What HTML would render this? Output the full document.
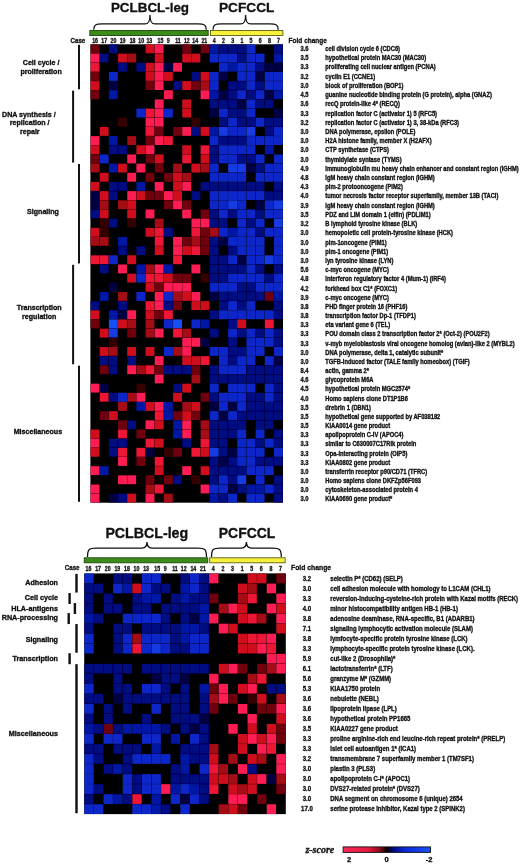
<!DOCTYPE html>
<html lang="en"><head><meta charset="utf-8"><title>Gene expression heatmaps: PCLBCL-leg vs PCFCCL</title>
<style>html,body{margin:0;padding:0;background:#fff}svg{display:block}text{font-family:"Liberation Sans",sans-serif;font-weight:bold;fill:#111;stroke:#111;stroke-width:0.32px;stroke-linejoin:round}.g{font-size:6.3px}.g2{font-size:6.55px}.h{font-size:13.5px}.l{font-size:7.08px}.f{font-size:7.8px}.l,.l2{stroke-width:0.34px}.l2{font-size:7.2px}.zl{font-size:7.5px}.c{font-size:6.4px}.cs{font-size:7.1px}.z{font-family:"Liberation Serif",serif;font-style:italic;font-weight:bold;font-size:10px}</style></head><body>
<svg width="520" height="864" viewBox="0 0 520 864">
<defs><linearGradient id="zg" x1="0" x2="1" y1="0" y2="0"><stop offset="0" stop-color="#ff2858"/><stop offset="0.3" stop-color="#e2183c"/><stop offset="0.42" stop-color="#8c0a1c"/><stop offset="0.5" stop-color="#000"/><stop offset="0.58" stop-color="#000a82"/><stop offset="0.7" stop-color="#0c28d4"/><stop offset="1" stop-color="#1c50fa"/></linearGradient><filter id="bl" x="-2%" y="-2%" width="104%" height="104%"><feGaussianBlur stdDeviation="0.55"/></filter></defs>
<rect width="520" height="864" fill="#fff"/>
<rect x="89.85" y="30.50" width="118.34" height="5.0" fill="#3c8c1c" stroke="#1f470c" stroke-width="0.9"/>
<rect x="210.49" y="30.50" width="72.38" height="5.0" fill="#f6f23c" stroke="#5e5e14" stroke-width="0.9"/>
<path d="M93.75 29.70 C93.75 24.90 95.75 23.90 102.25 23.90 L144.99 23.90 C148.49 23.90 149.99 21.90 149.99 14.90 C149.99 21.90 151.49 23.90 154.99 23.90 L197.74 23.90 C204.24 23.90 206.24 24.90 206.24 29.70" fill="none" stroke="#111" stroke-width="1.3"/>
<path d="M213.04 29.70 C213.04 24.90 215.04 23.90 221.54 23.90 L240.62 23.90 C244.12 23.90 245.62 21.90 245.62 14.90 C245.62 21.90 247.12 23.90 250.62 23.90 L269.71 23.90 C276.21 23.90 278.21 24.90 278.21 29.70" fill="none" stroke="#111" stroke-width="1.3"/>
<text x="150.0" y="11.9" class="h" text-anchor="middle" style="font-size:13.4px">PCLBCL-leg</text>
<text x="246.7" y="11.9" class="h" text-anchor="middle" style="font-size:13.7px">PCFCCL</text>
<text transform="translate(85.30 42.90) scale(0.87 1)" class="cs" text-anchor="end">Case</text>
<text transform="translate(95.09 42.80) scale(0.82 1)" class="c" text-anchor="middle">16</text>
<text transform="translate(104.26 42.80) scale(0.82 1)" class="c" text-anchor="middle">17</text>
<text transform="translate(113.43 42.80) scale(0.82 1)" class="c" text-anchor="middle">20</text>
<text transform="translate(122.60 42.80) scale(0.82 1)" class="c" text-anchor="middle">19</text>
<text transform="translate(132.57 42.80) scale(0.82 1)" class="c" text-anchor="middle">18</text>
<text transform="translate(141.25 42.80) scale(0.82 1)" class="c" text-anchor="middle">10</text>
<text transform="translate(149.32 42.80) scale(0.82 1)" class="c" text-anchor="middle">13</text>
<text transform="translate(160.49 42.80) scale(0.82 1)" class="c" text-anchor="middle">15</text>
<text transform="translate(168.16 42.80) scale(0.82 1)" class="c" text-anchor="middle">9</text>
<text transform="translate(177.93 42.80) scale(0.82 1)" class="c" text-anchor="middle">11</text>
<text transform="translate(186.81 42.80) scale(0.82 1)" class="c" text-anchor="middle">12</text>
<text transform="translate(195.18 42.80) scale(0.82 1)" class="c" text-anchor="middle">14</text>
<text transform="translate(204.35 42.80) scale(0.82 1)" class="c" text-anchor="middle">21</text>
<text transform="translate(214.32 42.80) scale(0.82 1)" class="c" text-anchor="middle">4</text>
<text transform="translate(223.49 42.80) scale(0.82 1)" class="c" text-anchor="middle">2</text>
<text transform="translate(232.67 42.80) scale(0.82 1)" class="c" text-anchor="middle">3</text>
<text transform="translate(241.84 42.80) scale(0.82 1)" class="c" text-anchor="middle">1</text>
<text transform="translate(251.01 42.80) scale(0.82 1)" class="c" text-anchor="middle">5</text>
<text transform="translate(260.18 42.80) scale(0.82 1)" class="c" text-anchor="middle">6</text>
<text transform="translate(269.35 42.80) scale(0.82 1)" class="c" text-anchor="middle">8</text>
<text transform="translate(278.53 42.80) scale(0.82 1)" class="c" text-anchor="middle">7</text>
<text transform="translate(288.60 43.00) scale(0.835 1)" class="f" text-anchor="start">Fold change</text>
<g filter="url(#bl)">
<rect x="90.40" y="44.30" width="192.61" height="458.40" fill="#000"/>
<rect x="90.55" y="44.45" width="8.87" height="8.87" fill="#70030a"/>
<rect x="108.89" y="44.45" width="8.87" height="8.87" fill="#020780"/>
<rect x="145.58" y="44.45" width="8.87" height="8.87" fill="#d00e1e"/>
<rect x="154.75" y="44.45" width="8.87" height="8.87" fill="#ff1c52"/>
<rect x="182.27" y="44.45" width="8.87" height="8.87" fill="#70030a"/>
<rect x="200.61" y="44.45" width="8.87" height="8.87" fill="#70030a"/>
<rect x="209.79" y="44.45" width="8.87" height="8.87" fill="#0616a5"/>
<rect x="218.96" y="44.45" width="8.87" height="8.87" fill="#020780"/>
<rect x="228.13" y="44.45" width="8.87" height="8.87" fill="#020780"/>
<rect x="237.30" y="44.45" width="8.87" height="8.87" fill="#020780"/>
<rect x="246.47" y="44.45" width="8.87" height="8.87" fill="#0c28ca"/>
<rect x="273.99" y="44.45" width="8.87" height="8.87" fill="#020780"/>
<rect x="90.55" y="53.62" width="8.87" height="8.87" fill="#ff1c52"/>
<rect x="99.72" y="53.62" width="8.87" height="8.87" fill="#020780"/>
<rect x="118.07" y="53.62" width="8.87" height="8.87" fill="#d00e1e"/>
<rect x="127.24" y="53.62" width="8.87" height="8.87" fill="#a50812"/>
<rect x="154.75" y="53.62" width="8.87" height="8.87" fill="#d00e1e"/>
<rect x="182.27" y="53.62" width="8.87" height="8.87" fill="#d00e1e"/>
<rect x="191.44" y="53.62" width="8.87" height="8.87" fill="#d00e1e"/>
<rect x="209.79" y="53.62" width="8.87" height="8.87" fill="#0c28ca"/>
<rect x="218.96" y="53.62" width="8.87" height="8.87" fill="#0c28ca"/>
<rect x="228.13" y="53.62" width="8.87" height="8.87" fill="#0c28ca"/>
<rect x="237.30" y="53.62" width="8.87" height="8.87" fill="#020780"/>
<rect x="246.47" y="53.62" width="8.87" height="8.87" fill="#0c28ca"/>
<rect x="255.65" y="53.62" width="8.87" height="8.87" fill="#0c28ca"/>
<rect x="273.99" y="53.62" width="8.87" height="8.87" fill="#0616a5"/>
<rect x="90.55" y="62.79" width="8.87" height="8.87" fill="#ee1434"/>
<rect x="118.07" y="62.79" width="8.87" height="8.87" fill="#020780"/>
<rect x="136.41" y="62.79" width="8.87" height="8.87" fill="#020780"/>
<rect x="145.58" y="62.79" width="8.87" height="8.87" fill="#d00e1e"/>
<rect x="154.75" y="62.79" width="8.87" height="8.87" fill="#ff1c52"/>
<rect x="163.93" y="62.79" width="8.87" height="8.87" fill="#000042"/>
<rect x="173.10" y="62.79" width="8.87" height="8.87" fill="#ff1c52"/>
<rect x="218.96" y="62.79" width="8.87" height="8.87" fill="#0c28ca"/>
<rect x="228.13" y="62.79" width="8.87" height="8.87" fill="#0616a5"/>
<rect x="237.30" y="62.79" width="8.87" height="8.87" fill="#0c28ca"/>
<rect x="246.47" y="62.79" width="8.87" height="8.87" fill="#0c28ca"/>
<rect x="255.65" y="62.79" width="8.87" height="8.87" fill="#020780"/>
<rect x="264.82" y="62.79" width="8.87" height="8.87" fill="#000042"/>
<rect x="273.99" y="62.79" width="8.87" height="8.87" fill="#000042"/>
<rect x="90.55" y="71.95" width="8.87" height="8.87" fill="#70030a"/>
<rect x="108.89" y="71.95" width="8.87" height="8.87" fill="#0c28ca"/>
<rect x="145.58" y="71.95" width="8.87" height="8.87" fill="#d00e1e"/>
<rect x="154.75" y="71.95" width="8.87" height="8.87" fill="#ff1c52"/>
<rect x="163.93" y="71.95" width="8.87" height="8.87" fill="#d00e1e"/>
<rect x="191.44" y="71.95" width="8.87" height="8.87" fill="#020780"/>
<rect x="200.61" y="71.95" width="8.87" height="8.87" fill="#d00e1e"/>
<rect x="209.79" y="71.95" width="8.87" height="8.87" fill="#0c28ca"/>
<rect x="218.96" y="71.95" width="8.87" height="8.87" fill="#000042"/>
<rect x="237.30" y="71.95" width="8.87" height="8.87" fill="#0c28ca"/>
<rect x="246.47" y="71.95" width="8.87" height="8.87" fill="#0c28ca"/>
<rect x="255.65" y="71.95" width="8.87" height="8.87" fill="#000042"/>
<rect x="264.82" y="71.95" width="8.87" height="8.87" fill="#0c28ca"/>
<rect x="273.99" y="71.95" width="8.87" height="8.87" fill="#0c28ca"/>
<rect x="90.55" y="81.12" width="8.87" height="8.87" fill="#d00e1e"/>
<rect x="108.89" y="81.12" width="8.87" height="8.87" fill="#000042"/>
<rect x="145.58" y="81.12" width="8.87" height="8.87" fill="#70030a"/>
<rect x="154.75" y="81.12" width="8.87" height="8.87" fill="#ff1c52"/>
<rect x="173.10" y="81.12" width="8.87" height="8.87" fill="#020780"/>
<rect x="182.27" y="81.12" width="8.87" height="8.87" fill="#d00e1e"/>
<rect x="191.44" y="81.12" width="8.87" height="8.87" fill="#70030a"/>
<rect x="200.61" y="81.12" width="8.87" height="8.87" fill="#a50812"/>
<rect x="209.79" y="81.12" width="8.87" height="8.87" fill="#0c28ca"/>
<rect x="228.13" y="81.12" width="8.87" height="8.87" fill="#020780"/>
<rect x="237.30" y="81.12" width="8.87" height="8.87" fill="#020780"/>
<rect x="246.47" y="81.12" width="8.87" height="8.87" fill="#0c28ca"/>
<rect x="255.65" y="81.12" width="8.87" height="8.87" fill="#020780"/>
<rect x="264.82" y="81.12" width="8.87" height="8.87" fill="#0c28ca"/>
<rect x="273.99" y="81.12" width="8.87" height="8.87" fill="#0c28ca"/>
<rect x="90.55" y="90.29" width="8.87" height="8.87" fill="#70030a"/>
<rect x="108.89" y="90.29" width="8.87" height="8.87" fill="#0616a5"/>
<rect x="163.93" y="90.29" width="8.87" height="8.87" fill="#ff1c52"/>
<rect x="200.61" y="90.29" width="8.87" height="8.87" fill="#ff1c52"/>
<rect x="209.79" y="90.29" width="8.87" height="8.87" fill="#0616a5"/>
<rect x="218.96" y="90.29" width="8.87" height="8.87" fill="#000042"/>
<rect x="228.13" y="90.29" width="8.87" height="8.87" fill="#020780"/>
<rect x="237.30" y="90.29" width="8.87" height="8.87" fill="#0c28ca"/>
<rect x="246.47" y="90.29" width="8.87" height="8.87" fill="#020780"/>
<rect x="255.65" y="90.29" width="8.87" height="8.87" fill="#0c28ca"/>
<rect x="264.82" y="90.29" width="8.87" height="8.87" fill="#000042"/>
<rect x="273.99" y="90.29" width="8.87" height="8.87" fill="#0616a5"/>
<rect x="154.75" y="99.46" width="8.87" height="8.87" fill="#ff1c52"/>
<rect x="182.27" y="99.46" width="8.87" height="8.87" fill="#d00e1e"/>
<rect x="209.79" y="99.46" width="8.87" height="8.87" fill="#020780"/>
<rect x="218.96" y="99.46" width="8.87" height="8.87" fill="#020780"/>
<rect x="228.13" y="99.46" width="8.87" height="8.87" fill="#020780"/>
<rect x="237.30" y="99.46" width="8.87" height="8.87" fill="#000042"/>
<rect x="246.47" y="99.46" width="8.87" height="8.87" fill="#0c28ca"/>
<rect x="255.65" y="99.46" width="8.87" height="8.87" fill="#020780"/>
<rect x="264.82" y="99.46" width="8.87" height="8.87" fill="#020780"/>
<rect x="136.41" y="108.63" width="8.87" height="8.87" fill="#0c28ca"/>
<rect x="145.58" y="108.63" width="8.87" height="8.87" fill="#ee1434"/>
<rect x="154.75" y="108.63" width="8.87" height="8.87" fill="#ff1c52"/>
<rect x="163.93" y="108.63" width="8.87" height="8.87" fill="#0c28ca"/>
<rect x="182.27" y="108.63" width="8.87" height="8.87" fill="#d00e1e"/>
<rect x="209.79" y="108.63" width="8.87" height="8.87" fill="#000042"/>
<rect x="218.96" y="108.63" width="8.87" height="8.87" fill="#0c28ca"/>
<rect x="228.13" y="108.63" width="8.87" height="8.87" fill="#020780"/>
<rect x="237.30" y="108.63" width="8.87" height="8.87" fill="#020780"/>
<rect x="246.47" y="108.63" width="8.87" height="8.87" fill="#0c28ca"/>
<rect x="273.99" y="108.63" width="8.87" height="8.87" fill="#000042"/>
<rect x="118.07" y="117.79" width="8.87" height="8.87" fill="#340004"/>
<rect x="145.58" y="117.79" width="8.87" height="8.87" fill="#ff1c52"/>
<rect x="154.75" y="117.79" width="8.87" height="8.87" fill="#ff1c52"/>
<rect x="191.44" y="117.79" width="8.87" height="8.87" fill="#340004"/>
<rect x="218.96" y="117.79" width="8.87" height="8.87" fill="#020780"/>
<rect x="228.13" y="117.79" width="8.87" height="8.87" fill="#0c28ca"/>
<rect x="237.30" y="117.79" width="8.87" height="8.87" fill="#020780"/>
<rect x="246.47" y="117.79" width="8.87" height="8.87" fill="#020780"/>
<rect x="255.65" y="117.79" width="8.87" height="8.87" fill="#0c28ca"/>
<rect x="264.82" y="117.79" width="8.87" height="8.87" fill="#020780"/>
<rect x="273.99" y="117.79" width="8.87" height="8.87" fill="#020780"/>
<rect x="99.72" y="126.96" width="8.87" height="8.87" fill="#d00e1e"/>
<rect x="145.58" y="126.96" width="8.87" height="8.87" fill="#ee1434"/>
<rect x="154.75" y="126.96" width="8.87" height="8.87" fill="#70030a"/>
<rect x="173.10" y="126.96" width="8.87" height="8.87" fill="#70030a"/>
<rect x="182.27" y="126.96" width="8.87" height="8.87" fill="#ff1c52"/>
<rect x="191.44" y="126.96" width="8.87" height="8.87" fill="#020780"/>
<rect x="200.61" y="126.96" width="8.87" height="8.87" fill="#d00e1e"/>
<rect x="209.79" y="126.96" width="8.87" height="8.87" fill="#0616a5"/>
<rect x="218.96" y="126.96" width="8.87" height="8.87" fill="#123ae2"/>
<rect x="228.13" y="126.96" width="8.87" height="8.87" fill="#0c28ca"/>
<rect x="237.30" y="126.96" width="8.87" height="8.87" fill="#0c28ca"/>
<rect x="246.47" y="126.96" width="8.87" height="8.87" fill="#123ae2"/>
<rect x="264.82" y="126.96" width="8.87" height="8.87" fill="#020780"/>
<rect x="273.99" y="126.96" width="8.87" height="8.87" fill="#0c28ca"/>
<rect x="90.55" y="136.13" width="8.87" height="8.87" fill="#ff1c52"/>
<rect x="108.89" y="136.13" width="8.87" height="8.87" fill="#0616a5"/>
<rect x="127.24" y="136.13" width="8.87" height="8.87" fill="#a50812"/>
<rect x="145.58" y="136.13" width="8.87" height="8.87" fill="#70030a"/>
<rect x="154.75" y="136.13" width="8.87" height="8.87" fill="#ff1c52"/>
<rect x="163.93" y="136.13" width="8.87" height="8.87" fill="#ee1434"/>
<rect x="209.79" y="136.13" width="8.87" height="8.87" fill="#0c28ca"/>
<rect x="218.96" y="136.13" width="8.87" height="8.87" fill="#020780"/>
<rect x="228.13" y="136.13" width="8.87" height="8.87" fill="#020780"/>
<rect x="237.30" y="136.13" width="8.87" height="8.87" fill="#020780"/>
<rect x="246.47" y="136.13" width="8.87" height="8.87" fill="#0c28ca"/>
<rect x="255.65" y="136.13" width="8.87" height="8.87" fill="#0c28ca"/>
<rect x="264.82" y="136.13" width="8.87" height="8.87" fill="#0c28ca"/>
<rect x="273.99" y="136.13" width="8.87" height="8.87" fill="#0c28ca"/>
<rect x="90.55" y="145.30" width="8.87" height="8.87" fill="#d00e1e"/>
<rect x="108.89" y="145.30" width="8.87" height="8.87" fill="#020780"/>
<rect x="118.07" y="145.30" width="8.87" height="8.87" fill="#020780"/>
<rect x="136.41" y="145.30" width="8.87" height="8.87" fill="#d00e1e"/>
<rect x="145.58" y="145.30" width="8.87" height="8.87" fill="#ff1c52"/>
<rect x="182.27" y="145.30" width="8.87" height="8.87" fill="#d00e1e"/>
<rect x="200.61" y="145.30" width="8.87" height="8.87" fill="#ee1434"/>
<rect x="209.79" y="145.30" width="8.87" height="8.87" fill="#020780"/>
<rect x="218.96" y="145.30" width="8.87" height="8.87" fill="#0c28ca"/>
<rect x="228.13" y="145.30" width="8.87" height="8.87" fill="#0c28ca"/>
<rect x="237.30" y="145.30" width="8.87" height="8.87" fill="#0c28ca"/>
<rect x="246.47" y="145.30" width="8.87" height="8.87" fill="#0c28ca"/>
<rect x="264.82" y="145.30" width="8.87" height="8.87" fill="#0616a5"/>
<rect x="90.55" y="154.47" width="8.87" height="8.87" fill="#70030a"/>
<rect x="99.72" y="154.47" width="8.87" height="8.87" fill="#0c28ca"/>
<rect x="127.24" y="154.47" width="8.87" height="8.87" fill="#ff1c52"/>
<rect x="145.58" y="154.47" width="8.87" height="8.87" fill="#70030a"/>
<rect x="154.75" y="154.47" width="8.87" height="8.87" fill="#d00e1e"/>
<rect x="182.27" y="154.47" width="8.87" height="8.87" fill="#ee1434"/>
<rect x="200.61" y="154.47" width="8.87" height="8.87" fill="#d00e1e"/>
<rect x="209.79" y="154.47" width="8.87" height="8.87" fill="#020780"/>
<rect x="218.96" y="154.47" width="8.87" height="8.87" fill="#0c28ca"/>
<rect x="228.13" y="154.47" width="8.87" height="8.87" fill="#0c28ca"/>
<rect x="237.30" y="154.47" width="8.87" height="8.87" fill="#020780"/>
<rect x="246.47" y="154.47" width="8.87" height="8.87" fill="#020780"/>
<rect x="255.65" y="154.47" width="8.87" height="8.87" fill="#0c28ca"/>
<rect x="273.99" y="154.47" width="8.87" height="8.87" fill="#0c28ca"/>
<rect x="90.55" y="163.63" width="8.87" height="8.87" fill="#a50812"/>
<rect x="108.89" y="163.63" width="8.87" height="8.87" fill="#0616a5"/>
<rect x="118.07" y="163.63" width="8.87" height="8.87" fill="#d00e1e"/>
<rect x="136.41" y="163.63" width="8.87" height="8.87" fill="#ff1c52"/>
<rect x="154.75" y="163.63" width="8.87" height="8.87" fill="#70030a"/>
<rect x="173.10" y="163.63" width="8.87" height="8.87" fill="#a50812"/>
<rect x="191.44" y="163.63" width="8.87" height="8.87" fill="#d00e1e"/>
<rect x="200.61" y="163.63" width="8.87" height="8.87" fill="#a50812"/>
<rect x="209.79" y="163.63" width="8.87" height="8.87" fill="#0c28ca"/>
<rect x="228.13" y="163.63" width="8.87" height="8.87" fill="#123ae2"/>
<rect x="237.30" y="163.63" width="8.87" height="8.87" fill="#123ae2"/>
<rect x="246.47" y="163.63" width="8.87" height="8.87" fill="#000042"/>
<rect x="255.65" y="163.63" width="8.87" height="8.87" fill="#020780"/>
<rect x="264.82" y="163.63" width="8.87" height="8.87" fill="#0c28ca"/>
<rect x="273.99" y="163.63" width="8.87" height="8.87" fill="#0c28ca"/>
<rect x="99.72" y="172.80" width="8.87" height="8.87" fill="#d00e1e"/>
<rect x="127.24" y="172.80" width="8.87" height="8.87" fill="#ff1c52"/>
<rect x="145.58" y="172.80" width="8.87" height="8.87" fill="#70030a"/>
<rect x="163.93" y="172.80" width="8.87" height="8.87" fill="#70030a"/>
<rect x="173.10" y="172.80" width="8.87" height="8.87" fill="#d00e1e"/>
<rect x="182.27" y="172.80" width="8.87" height="8.87" fill="#a50812"/>
<rect x="209.79" y="172.80" width="8.87" height="8.87" fill="#0c28ca"/>
<rect x="218.96" y="172.80" width="8.87" height="8.87" fill="#0c28ca"/>
<rect x="228.13" y="172.80" width="8.87" height="8.87" fill="#0c28ca"/>
<rect x="237.30" y="172.80" width="8.87" height="8.87" fill="#0c28ca"/>
<rect x="255.65" y="172.80" width="8.87" height="8.87" fill="#0c28ca"/>
<rect x="264.82" y="172.80" width="8.87" height="8.87" fill="#0c28ca"/>
<rect x="273.99" y="172.80" width="8.87" height="8.87" fill="#0c28ca"/>
<rect x="90.55" y="181.97" width="8.87" height="8.87" fill="#d00e1e"/>
<rect x="108.89" y="181.97" width="8.87" height="8.87" fill="#020780"/>
<rect x="118.07" y="181.97" width="8.87" height="8.87" fill="#020780"/>
<rect x="136.41" y="181.97" width="8.87" height="8.87" fill="#0616a5"/>
<rect x="154.75" y="181.97" width="8.87" height="8.87" fill="#ff1c52"/>
<rect x="173.10" y="181.97" width="8.87" height="8.87" fill="#d00e1e"/>
<rect x="182.27" y="181.97" width="8.87" height="8.87" fill="#ff1c52"/>
<rect x="200.61" y="181.97" width="8.87" height="8.87" fill="#020780"/>
<rect x="209.79" y="181.97" width="8.87" height="8.87" fill="#020780"/>
<rect x="218.96" y="181.97" width="8.87" height="8.87" fill="#020780"/>
<rect x="228.13" y="181.97" width="8.87" height="8.87" fill="#020780"/>
<rect x="237.30" y="181.97" width="8.87" height="8.87" fill="#020780"/>
<rect x="246.47" y="181.97" width="8.87" height="8.87" fill="#020780"/>
<rect x="255.65" y="181.97" width="8.87" height="8.87" fill="#020780"/>
<rect x="273.99" y="181.97" width="8.87" height="8.87" fill="#020780"/>
<rect x="90.55" y="191.14" width="8.87" height="8.87" fill="#000042"/>
<rect x="99.72" y="191.14" width="8.87" height="8.87" fill="#d00e1e"/>
<rect x="108.89" y="191.14" width="8.87" height="8.87" fill="#020780"/>
<rect x="127.24" y="191.14" width="8.87" height="8.87" fill="#ff1c52"/>
<rect x="136.41" y="191.14" width="8.87" height="8.87" fill="#d00e1e"/>
<rect x="145.58" y="191.14" width="8.87" height="8.87" fill="#70030a"/>
<rect x="154.75" y="191.14" width="8.87" height="8.87" fill="#70030a"/>
<rect x="163.93" y="191.14" width="8.87" height="8.87" fill="#ff1c52"/>
<rect x="173.10" y="191.14" width="8.87" height="8.87" fill="#d00e1e"/>
<rect x="191.44" y="191.14" width="8.87" height="8.87" fill="#020780"/>
<rect x="209.79" y="191.14" width="8.87" height="8.87" fill="#0c28ca"/>
<rect x="218.96" y="191.14" width="8.87" height="8.87" fill="#0c28ca"/>
<rect x="228.13" y="191.14" width="8.87" height="8.87" fill="#0c28ca"/>
<rect x="237.30" y="191.14" width="8.87" height="8.87" fill="#0c28ca"/>
<rect x="246.47" y="191.14" width="8.87" height="8.87" fill="#0c28ca"/>
<rect x="255.65" y="191.14" width="8.87" height="8.87" fill="#0c28ca"/>
<rect x="264.82" y="191.14" width="8.87" height="8.87" fill="#020780"/>
<rect x="273.99" y="191.14" width="8.87" height="8.87" fill="#020780"/>
<rect x="90.55" y="200.31" width="8.87" height="8.87" fill="#000042"/>
<rect x="99.72" y="200.31" width="8.87" height="8.87" fill="#a50812"/>
<rect x="118.07" y="200.31" width="8.87" height="8.87" fill="#a50812"/>
<rect x="127.24" y="200.31" width="8.87" height="8.87" fill="#d00e1e"/>
<rect x="163.93" y="200.31" width="8.87" height="8.87" fill="#70030a"/>
<rect x="173.10" y="200.31" width="8.87" height="8.87" fill="#ff1c52"/>
<rect x="182.27" y="200.31" width="8.87" height="8.87" fill="#70030a"/>
<rect x="209.79" y="200.31" width="8.87" height="8.87" fill="#0c28ca"/>
<rect x="218.96" y="200.31" width="8.87" height="8.87" fill="#0c28ca"/>
<rect x="228.13" y="200.31" width="8.87" height="8.87" fill="#123ae2"/>
<rect x="237.30" y="200.31" width="8.87" height="8.87" fill="#0c28ca"/>
<rect x="255.65" y="200.31" width="8.87" height="8.87" fill="#000042"/>
<rect x="264.82" y="200.31" width="8.87" height="8.87" fill="#0c28ca"/>
<rect x="273.99" y="200.31" width="8.87" height="8.87" fill="#123ae2"/>
<rect x="90.55" y="209.47" width="8.87" height="8.87" fill="#020780"/>
<rect x="99.72" y="209.47" width="8.87" height="8.87" fill="#d00e1e"/>
<rect x="127.24" y="209.47" width="8.87" height="8.87" fill="#d00e1e"/>
<rect x="145.58" y="209.47" width="8.87" height="8.87" fill="#ff1c52"/>
<rect x="182.27" y="209.47" width="8.87" height="8.87" fill="#ff1c52"/>
<rect x="200.61" y="209.47" width="8.87" height="8.87" fill="#70030a"/>
<rect x="209.79" y="209.47" width="8.87" height="8.87" fill="#020780"/>
<rect x="218.96" y="209.47" width="8.87" height="8.87" fill="#0c28ca"/>
<rect x="228.13" y="209.47" width="8.87" height="8.87" fill="#020780"/>
<rect x="237.30" y="209.47" width="8.87" height="8.87" fill="#0c28ca"/>
<rect x="246.47" y="209.47" width="8.87" height="8.87" fill="#0c28ca"/>
<rect x="255.65" y="209.47" width="8.87" height="8.87" fill="#020780"/>
<rect x="264.82" y="209.47" width="8.87" height="8.87" fill="#0c28ca"/>
<rect x="273.99" y="209.47" width="8.87" height="8.87" fill="#0c28ca"/>
<rect x="99.72" y="218.64" width="8.87" height="8.87" fill="#340004"/>
<rect x="108.89" y="218.64" width="8.87" height="8.87" fill="#020780"/>
<rect x="127.24" y="218.64" width="8.87" height="8.87" fill="#340004"/>
<rect x="154.75" y="218.64" width="8.87" height="8.87" fill="#a50812"/>
<rect x="191.44" y="218.64" width="8.87" height="8.87" fill="#ff1c52"/>
<rect x="200.61" y="218.64" width="8.87" height="8.87" fill="#ff1c52"/>
<rect x="209.79" y="218.64" width="8.87" height="8.87" fill="#020780"/>
<rect x="218.96" y="218.64" width="8.87" height="8.87" fill="#020780"/>
<rect x="237.30" y="218.64" width="8.87" height="8.87" fill="#0c28ca"/>
<rect x="246.47" y="218.64" width="8.87" height="8.87" fill="#020780"/>
<rect x="255.65" y="218.64" width="8.87" height="8.87" fill="#0c28ca"/>
<rect x="273.99" y="218.64" width="8.87" height="8.87" fill="#123ae2"/>
<rect x="90.55" y="227.81" width="8.87" height="8.87" fill="#d00e1e"/>
<rect x="99.72" y="227.81" width="8.87" height="8.87" fill="#340004"/>
<rect x="145.58" y="227.81" width="8.87" height="8.87" fill="#d00e1e"/>
<rect x="154.75" y="227.81" width="8.87" height="8.87" fill="#ee1434"/>
<rect x="163.93" y="227.81" width="8.87" height="8.87" fill="#020780"/>
<rect x="191.44" y="227.81" width="8.87" height="8.87" fill="#ee1434"/>
<rect x="200.61" y="227.81" width="8.87" height="8.87" fill="#70030a"/>
<rect x="209.79" y="227.81" width="8.87" height="8.87" fill="#a50812"/>
<rect x="218.96" y="227.81" width="8.87" height="8.87" fill="#0c28ca"/>
<rect x="228.13" y="227.81" width="8.87" height="8.87" fill="#0616a5"/>
<rect x="237.30" y="227.81" width="8.87" height="8.87" fill="#0c28ca"/>
<rect x="246.47" y="227.81" width="8.87" height="8.87" fill="#0c28ca"/>
<rect x="255.65" y="227.81" width="8.87" height="8.87" fill="#020780"/>
<rect x="264.82" y="227.81" width="8.87" height="8.87" fill="#0c28ca"/>
<rect x="273.99" y="227.81" width="8.87" height="8.87" fill="#0c28ca"/>
<rect x="90.55" y="236.98" width="8.87" height="8.87" fill="#a50812"/>
<rect x="99.72" y="236.98" width="8.87" height="8.87" fill="#a50812"/>
<rect x="118.07" y="236.98" width="8.87" height="8.87" fill="#0616a5"/>
<rect x="154.75" y="236.98" width="8.87" height="8.87" fill="#ee1434"/>
<rect x="173.10" y="236.98" width="8.87" height="8.87" fill="#ff1c52"/>
<rect x="182.27" y="236.98" width="8.87" height="8.87" fill="#70030a"/>
<rect x="191.44" y="236.98" width="8.87" height="8.87" fill="#a50812"/>
<rect x="200.61" y="236.98" width="8.87" height="8.87" fill="#70030a"/>
<rect x="209.79" y="236.98" width="8.87" height="8.87" fill="#020780"/>
<rect x="218.96" y="236.98" width="8.87" height="8.87" fill="#000042"/>
<rect x="228.13" y="236.98" width="8.87" height="8.87" fill="#0c28ca"/>
<rect x="237.30" y="236.98" width="8.87" height="8.87" fill="#0c28ca"/>
<rect x="246.47" y="236.98" width="8.87" height="8.87" fill="#0c28ca"/>
<rect x="255.65" y="236.98" width="8.87" height="8.87" fill="#0c28ca"/>
<rect x="273.99" y="236.98" width="8.87" height="8.87" fill="#0c28ca"/>
<rect x="118.07" y="246.15" width="8.87" height="8.87" fill="#020780"/>
<rect x="136.41" y="246.15" width="8.87" height="8.87" fill="#020780"/>
<rect x="154.75" y="246.15" width="8.87" height="8.87" fill="#d00e1e"/>
<rect x="173.10" y="246.15" width="8.87" height="8.87" fill="#ff1c52"/>
<rect x="182.27" y="246.15" width="8.87" height="8.87" fill="#d00e1e"/>
<rect x="191.44" y="246.15" width="8.87" height="8.87" fill="#ee1434"/>
<rect x="200.61" y="246.15" width="8.87" height="8.87" fill="#70030a"/>
<rect x="209.79" y="246.15" width="8.87" height="8.87" fill="#020780"/>
<rect x="228.13" y="246.15" width="8.87" height="8.87" fill="#020780"/>
<rect x="237.30" y="246.15" width="8.87" height="8.87" fill="#0c28ca"/>
<rect x="246.47" y="246.15" width="8.87" height="8.87" fill="#0c28ca"/>
<rect x="255.65" y="246.15" width="8.87" height="8.87" fill="#0c28ca"/>
<rect x="273.99" y="246.15" width="8.87" height="8.87" fill="#0c28ca"/>
<rect x="90.55" y="255.31" width="8.87" height="8.87" fill="#ee1434"/>
<rect x="99.72" y="255.31" width="8.87" height="8.87" fill="#ee1434"/>
<rect x="108.89" y="255.31" width="8.87" height="8.87" fill="#0c28ca"/>
<rect x="127.24" y="255.31" width="8.87" height="8.87" fill="#d00e1e"/>
<rect x="173.10" y="255.31" width="8.87" height="8.87" fill="#ee1434"/>
<rect x="209.79" y="255.31" width="8.87" height="8.87" fill="#020780"/>
<rect x="218.96" y="255.31" width="8.87" height="8.87" fill="#020780"/>
<rect x="228.13" y="255.31" width="8.87" height="8.87" fill="#0c28ca"/>
<rect x="237.30" y="255.31" width="8.87" height="8.87" fill="#000042"/>
<rect x="246.47" y="255.31" width="8.87" height="8.87" fill="#0c28ca"/>
<rect x="255.65" y="255.31" width="8.87" height="8.87" fill="#0c28ca"/>
<rect x="264.82" y="255.31" width="8.87" height="8.87" fill="#123ae2"/>
<rect x="273.99" y="255.31" width="8.87" height="8.87" fill="#0c28ca"/>
<rect x="99.72" y="264.48" width="8.87" height="8.87" fill="#020780"/>
<rect x="118.07" y="264.48" width="8.87" height="8.87" fill="#ff1c52"/>
<rect x="136.41" y="264.48" width="8.87" height="8.87" fill="#0616a5"/>
<rect x="145.58" y="264.48" width="8.87" height="8.87" fill="#a50812"/>
<rect x="154.75" y="264.48" width="8.87" height="8.87" fill="#ff1c52"/>
<rect x="163.93" y="264.48" width="8.87" height="8.87" fill="#0616a5"/>
<rect x="191.44" y="264.48" width="8.87" height="8.87" fill="#ff1c52"/>
<rect x="209.79" y="264.48" width="8.87" height="8.87" fill="#020780"/>
<rect x="218.96" y="264.48" width="8.87" height="8.87" fill="#020780"/>
<rect x="228.13" y="264.48" width="8.87" height="8.87" fill="#020780"/>
<rect x="237.30" y="264.48" width="8.87" height="8.87" fill="#020780"/>
<rect x="246.47" y="264.48" width="8.87" height="8.87" fill="#0c28ca"/>
<rect x="255.65" y="264.48" width="8.87" height="8.87" fill="#020780"/>
<rect x="273.99" y="264.48" width="8.87" height="8.87" fill="#020780"/>
<rect x="127.24" y="273.65" width="8.87" height="8.87" fill="#d00e1e"/>
<rect x="136.41" y="273.65" width="8.87" height="8.87" fill="#0c28ca"/>
<rect x="145.58" y="273.65" width="8.87" height="8.87" fill="#ee1434"/>
<rect x="154.75" y="273.65" width="8.87" height="8.87" fill="#ee1434"/>
<rect x="163.93" y="273.65" width="8.87" height="8.87" fill="#d00e1e"/>
<rect x="173.10" y="273.65" width="8.87" height="8.87" fill="#70030a"/>
<rect x="182.27" y="273.65" width="8.87" height="8.87" fill="#70030a"/>
<rect x="200.61" y="273.65" width="8.87" height="8.87" fill="#340004"/>
<rect x="209.79" y="273.65" width="8.87" height="8.87" fill="#020780"/>
<rect x="218.96" y="273.65" width="8.87" height="8.87" fill="#020780"/>
<rect x="228.13" y="273.65" width="8.87" height="8.87" fill="#0c28ca"/>
<rect x="237.30" y="273.65" width="8.87" height="8.87" fill="#0c28ca"/>
<rect x="246.47" y="273.65" width="8.87" height="8.87" fill="#0c28ca"/>
<rect x="255.65" y="273.65" width="8.87" height="8.87" fill="#0c28ca"/>
<rect x="264.82" y="273.65" width="8.87" height="8.87" fill="#020780"/>
<rect x="273.99" y="273.65" width="8.87" height="8.87" fill="#0c28ca"/>
<rect x="108.89" y="282.82" width="8.87" height="8.87" fill="#000042"/>
<rect x="145.58" y="282.82" width="8.87" height="8.87" fill="#d00e1e"/>
<rect x="154.75" y="282.82" width="8.87" height="8.87" fill="#70030a"/>
<rect x="163.93" y="282.82" width="8.87" height="8.87" fill="#ff1c52"/>
<rect x="173.10" y="282.82" width="8.87" height="8.87" fill="#ff1c52"/>
<rect x="182.27" y="282.82" width="8.87" height="8.87" fill="#ff1c52"/>
<rect x="209.79" y="282.82" width="8.87" height="8.87" fill="#0c28ca"/>
<rect x="218.96" y="282.82" width="8.87" height="8.87" fill="#0c28ca"/>
<rect x="228.13" y="282.82" width="8.87" height="8.87" fill="#0c28ca"/>
<rect x="237.30" y="282.82" width="8.87" height="8.87" fill="#020780"/>
<rect x="246.47" y="282.82" width="8.87" height="8.87" fill="#020780"/>
<rect x="255.65" y="282.82" width="8.87" height="8.87" fill="#0c28ca"/>
<rect x="264.82" y="282.82" width="8.87" height="8.87" fill="#0c28ca"/>
<rect x="273.99" y="282.82" width="8.87" height="8.87" fill="#0c28ca"/>
<rect x="99.72" y="291.99" width="8.87" height="8.87" fill="#0616a5"/>
<rect x="118.07" y="291.99" width="8.87" height="8.87" fill="#a50812"/>
<rect x="136.41" y="291.99" width="8.87" height="8.87" fill="#0c28ca"/>
<rect x="154.75" y="291.99" width="8.87" height="8.87" fill="#ff1c52"/>
<rect x="163.93" y="291.99" width="8.87" height="8.87" fill="#0c28ca"/>
<rect x="173.10" y="291.99" width="8.87" height="8.87" fill="#a50812"/>
<rect x="182.27" y="291.99" width="8.87" height="8.87" fill="#d00e1e"/>
<rect x="191.44" y="291.99" width="8.87" height="8.87" fill="#ff1c52"/>
<rect x="209.79" y="291.99" width="8.87" height="8.87" fill="#000042"/>
<rect x="218.96" y="291.99" width="8.87" height="8.87" fill="#020780"/>
<rect x="228.13" y="291.99" width="8.87" height="8.87" fill="#020780"/>
<rect x="237.30" y="291.99" width="8.87" height="8.87" fill="#020780"/>
<rect x="246.47" y="291.99" width="8.87" height="8.87" fill="#020780"/>
<rect x="255.65" y="291.99" width="8.87" height="8.87" fill="#020780"/>
<rect x="264.82" y="291.99" width="8.87" height="8.87" fill="#70030a"/>
<rect x="273.99" y="291.99" width="8.87" height="8.87" fill="#0616a5"/>
<rect x="90.55" y="301.15" width="8.87" height="8.87" fill="#020780"/>
<rect x="118.07" y="301.15" width="8.87" height="8.87" fill="#020780"/>
<rect x="145.58" y="301.15" width="8.87" height="8.87" fill="#ee1434"/>
<rect x="154.75" y="301.15" width="8.87" height="8.87" fill="#ff1c52"/>
<rect x="163.93" y="301.15" width="8.87" height="8.87" fill="#020780"/>
<rect x="173.10" y="301.15" width="8.87" height="8.87" fill="#70030a"/>
<rect x="191.44" y="301.15" width="8.87" height="8.87" fill="#d00e1e"/>
<rect x="200.61" y="301.15" width="8.87" height="8.87" fill="#d00e1e"/>
<rect x="218.96" y="301.15" width="8.87" height="8.87" fill="#020780"/>
<rect x="228.13" y="301.15" width="8.87" height="8.87" fill="#0c28ca"/>
<rect x="237.30" y="301.15" width="8.87" height="8.87" fill="#020780"/>
<rect x="246.47" y="301.15" width="8.87" height="8.87" fill="#0c28ca"/>
<rect x="273.99" y="301.15" width="8.87" height="8.87" fill="#020780"/>
<rect x="90.55" y="310.32" width="8.87" height="8.87" fill="#d00e1e"/>
<rect x="108.89" y="310.32" width="8.87" height="8.87" fill="#0616a5"/>
<rect x="118.07" y="310.32" width="8.87" height="8.87" fill="#000042"/>
<rect x="127.24" y="310.32" width="8.87" height="8.87" fill="#ff1c52"/>
<rect x="145.58" y="310.32" width="8.87" height="8.87" fill="#d00e1e"/>
<rect x="154.75" y="310.32" width="8.87" height="8.87" fill="#70030a"/>
<rect x="163.93" y="310.32" width="8.87" height="8.87" fill="#ee1434"/>
<rect x="209.79" y="310.32" width="8.87" height="8.87" fill="#020780"/>
<rect x="218.96" y="310.32" width="8.87" height="8.87" fill="#0c28ca"/>
<rect x="228.13" y="310.32" width="8.87" height="8.87" fill="#0c28ca"/>
<rect x="237.30" y="310.32" width="8.87" height="8.87" fill="#0c28ca"/>
<rect x="246.47" y="310.32" width="8.87" height="8.87" fill="#0c28ca"/>
<rect x="255.65" y="310.32" width="8.87" height="8.87" fill="#0c28ca"/>
<rect x="264.82" y="310.32" width="8.87" height="8.87" fill="#0c28ca"/>
<rect x="273.99" y="310.32" width="8.87" height="8.87" fill="#020780"/>
<rect x="90.55" y="319.49" width="8.87" height="8.87" fill="#70030a"/>
<rect x="108.89" y="319.49" width="8.87" height="8.87" fill="#1850f5"/>
<rect x="118.07" y="319.49" width="8.87" height="8.87" fill="#d00e1e"/>
<rect x="127.24" y="319.49" width="8.87" height="8.87" fill="#a50812"/>
<rect x="145.58" y="319.49" width="8.87" height="8.87" fill="#a50812"/>
<rect x="163.93" y="319.49" width="8.87" height="8.87" fill="#0c28ca"/>
<rect x="173.10" y="319.49" width="8.87" height="8.87" fill="#1850f5"/>
<rect x="191.44" y="319.49" width="8.87" height="8.87" fill="#0c28ca"/>
<rect x="200.61" y="319.49" width="8.87" height="8.87" fill="#0616a5"/>
<rect x="228.13" y="319.49" width="8.87" height="8.87" fill="#020780"/>
<rect x="237.30" y="319.49" width="8.87" height="8.87" fill="#d00e1e"/>
<rect x="264.82" y="319.49" width="8.87" height="8.87" fill="#ee1434"/>
<rect x="99.72" y="328.66" width="8.87" height="8.87" fill="#d00e1e"/>
<rect x="108.89" y="328.66" width="8.87" height="8.87" fill="#123ae2"/>
<rect x="127.24" y="328.66" width="8.87" height="8.87" fill="#70030a"/>
<rect x="145.58" y="328.66" width="8.87" height="8.87" fill="#a50812"/>
<rect x="154.75" y="328.66" width="8.87" height="8.87" fill="#ff1c52"/>
<rect x="173.10" y="328.66" width="8.87" height="8.87" fill="#ee1434"/>
<rect x="182.27" y="328.66" width="8.87" height="8.87" fill="#a50812"/>
<rect x="209.79" y="328.66" width="8.87" height="8.87" fill="#020780"/>
<rect x="228.13" y="328.66" width="8.87" height="8.87" fill="#0c28ca"/>
<rect x="237.30" y="328.66" width="8.87" height="8.87" fill="#020780"/>
<rect x="246.47" y="328.66" width="8.87" height="8.87" fill="#0c28ca"/>
<rect x="255.65" y="328.66" width="8.87" height="8.87" fill="#020780"/>
<rect x="264.82" y="328.66" width="8.87" height="8.87" fill="#0c28ca"/>
<rect x="273.99" y="328.66" width="8.87" height="8.87" fill="#020780"/>
<rect x="108.89" y="337.83" width="8.87" height="8.87" fill="#340004"/>
<rect x="182.27" y="337.83" width="8.87" height="8.87" fill="#ff1c52"/>
<rect x="191.44" y="337.83" width="8.87" height="8.87" fill="#ff1c52"/>
<rect x="200.61" y="337.83" width="8.87" height="8.87" fill="#000042"/>
<rect x="228.13" y="337.83" width="8.87" height="8.87" fill="#020780"/>
<rect x="246.47" y="337.83" width="8.87" height="8.87" fill="#0c28ca"/>
<rect x="255.65" y="337.83" width="8.87" height="8.87" fill="#0c28ca"/>
<rect x="264.82" y="337.83" width="8.87" height="8.87" fill="#0c28ca"/>
<rect x="273.99" y="337.83" width="8.87" height="8.87" fill="#020780"/>
<rect x="99.72" y="346.99" width="8.87" height="8.87" fill="#d00e1e"/>
<rect x="108.89" y="346.99" width="8.87" height="8.87" fill="#a50812"/>
<rect x="127.24" y="346.99" width="8.87" height="8.87" fill="#d00e1e"/>
<rect x="145.58" y="346.99" width="8.87" height="8.87" fill="#d00e1e"/>
<rect x="163.93" y="346.99" width="8.87" height="8.87" fill="#0c28ca"/>
<rect x="173.10" y="346.99" width="8.87" height="8.87" fill="#a50812"/>
<rect x="182.27" y="346.99" width="8.87" height="8.87" fill="#ff1c52"/>
<rect x="209.79" y="346.99" width="8.87" height="8.87" fill="#0c28ca"/>
<rect x="218.96" y="346.99" width="8.87" height="8.87" fill="#0c28ca"/>
<rect x="228.13" y="346.99" width="8.87" height="8.87" fill="#020780"/>
<rect x="237.30" y="346.99" width="8.87" height="8.87" fill="#020780"/>
<rect x="246.47" y="346.99" width="8.87" height="8.87" fill="#0c28ca"/>
<rect x="255.65" y="346.99" width="8.87" height="8.87" fill="#0c28ca"/>
<rect x="273.99" y="346.99" width="8.87" height="8.87" fill="#0c28ca"/>
<rect x="99.72" y="356.16" width="8.87" height="8.87" fill="#020780"/>
<rect x="108.89" y="356.16" width="8.87" height="8.87" fill="#020780"/>
<rect x="127.24" y="356.16" width="8.87" height="8.87" fill="#020780"/>
<rect x="154.75" y="356.16" width="8.87" height="8.87" fill="#ff1c52"/>
<rect x="182.27" y="356.16" width="8.87" height="8.87" fill="#d00e1e"/>
<rect x="191.44" y="356.16" width="8.87" height="8.87" fill="#d00e1e"/>
<rect x="200.61" y="356.16" width="8.87" height="8.87" fill="#ee1434"/>
<rect x="218.96" y="356.16" width="8.87" height="8.87" fill="#0c28ca"/>
<rect x="228.13" y="356.16" width="8.87" height="8.87" fill="#020780"/>
<rect x="237.30" y="356.16" width="8.87" height="8.87" fill="#0c28ca"/>
<rect x="246.47" y="356.16" width="8.87" height="8.87" fill="#0c28ca"/>
<rect x="264.82" y="356.16" width="8.87" height="8.87" fill="#0c28ca"/>
<rect x="273.99" y="356.16" width="8.87" height="8.87" fill="#000042"/>
<rect x="99.72" y="365.33" width="8.87" height="8.87" fill="#70030a"/>
<rect x="108.89" y="365.33" width="8.87" height="8.87" fill="#020780"/>
<rect x="127.24" y="365.33" width="8.87" height="8.87" fill="#ff1c52"/>
<rect x="136.41" y="365.33" width="8.87" height="8.87" fill="#a50812"/>
<rect x="145.58" y="365.33" width="8.87" height="8.87" fill="#ee1434"/>
<rect x="154.75" y="365.33" width="8.87" height="8.87" fill="#70030a"/>
<rect x="163.93" y="365.33" width="8.87" height="8.87" fill="#020780"/>
<rect x="173.10" y="365.33" width="8.87" height="8.87" fill="#020780"/>
<rect x="182.27" y="365.33" width="8.87" height="8.87" fill="#020780"/>
<rect x="191.44" y="365.33" width="8.87" height="8.87" fill="#70030a"/>
<rect x="209.79" y="365.33" width="8.87" height="8.87" fill="#020780"/>
<rect x="218.96" y="365.33" width="8.87" height="8.87" fill="#0c28ca"/>
<rect x="228.13" y="365.33" width="8.87" height="8.87" fill="#0c28ca"/>
<rect x="237.30" y="365.33" width="8.87" height="8.87" fill="#0c28ca"/>
<rect x="246.47" y="365.33" width="8.87" height="8.87" fill="#020780"/>
<rect x="255.65" y="365.33" width="8.87" height="8.87" fill="#020780"/>
<rect x="264.82" y="365.33" width="8.87" height="8.87" fill="#020780"/>
<rect x="273.99" y="365.33" width="8.87" height="8.87" fill="#020780"/>
<rect x="154.75" y="374.50" width="8.87" height="8.87" fill="#ff1c52"/>
<rect x="191.44" y="374.50" width="8.87" height="8.87" fill="#a50812"/>
<rect x="209.79" y="374.50" width="8.87" height="8.87" fill="#020780"/>
<rect x="218.96" y="374.50" width="8.87" height="8.87" fill="#020780"/>
<rect x="228.13" y="374.50" width="8.87" height="8.87" fill="#020780"/>
<rect x="237.30" y="374.50" width="8.87" height="8.87" fill="#020780"/>
<rect x="246.47" y="374.50" width="8.87" height="8.87" fill="#020780"/>
<rect x="255.65" y="374.50" width="8.87" height="8.87" fill="#020780"/>
<rect x="264.82" y="374.50" width="8.87" height="8.87" fill="#020780"/>
<rect x="273.99" y="374.50" width="8.87" height="8.87" fill="#020780"/>
<rect x="90.55" y="383.67" width="8.87" height="8.87" fill="#ff1c52"/>
<rect x="99.72" y="383.67" width="8.87" height="8.87" fill="#000042"/>
<rect x="136.41" y="383.67" width="8.87" height="8.87" fill="#340004"/>
<rect x="173.10" y="383.67" width="8.87" height="8.87" fill="#020780"/>
<rect x="182.27" y="383.67" width="8.87" height="8.87" fill="#d00e1e"/>
<rect x="209.79" y="383.67" width="8.87" height="8.87" fill="#0c28ca"/>
<rect x="228.13" y="383.67" width="8.87" height="8.87" fill="#0c28ca"/>
<rect x="237.30" y="383.67" width="8.87" height="8.87" fill="#0c28ca"/>
<rect x="246.47" y="383.67" width="8.87" height="8.87" fill="#0c28ca"/>
<rect x="264.82" y="383.67" width="8.87" height="8.87" fill="#0c28ca"/>
<rect x="273.99" y="383.67" width="8.87" height="8.87" fill="#020780"/>
<rect x="99.72" y="392.83" width="8.87" height="8.87" fill="#ee1434"/>
<rect x="108.89" y="392.83" width="8.87" height="8.87" fill="#020780"/>
<rect x="118.07" y="392.83" width="8.87" height="8.87" fill="#0c28ca"/>
<rect x="127.24" y="392.83" width="8.87" height="8.87" fill="#a50812"/>
<rect x="136.41" y="392.83" width="8.87" height="8.87" fill="#ff1c52"/>
<rect x="173.10" y="392.83" width="8.87" height="8.87" fill="#d00e1e"/>
<rect x="200.61" y="392.83" width="8.87" height="8.87" fill="#70030a"/>
<rect x="209.79" y="392.83" width="8.87" height="8.87" fill="#020780"/>
<rect x="218.96" y="392.83" width="8.87" height="8.87" fill="#0c28ca"/>
<rect x="228.13" y="392.83" width="8.87" height="8.87" fill="#0c28ca"/>
<rect x="237.30" y="392.83" width="8.87" height="8.87" fill="#0c28ca"/>
<rect x="246.47" y="392.83" width="8.87" height="8.87" fill="#020780"/>
<rect x="255.65" y="392.83" width="8.87" height="8.87" fill="#020780"/>
<rect x="264.82" y="392.83" width="8.87" height="8.87" fill="#0c28ca"/>
<rect x="273.99" y="392.83" width="8.87" height="8.87" fill="#020780"/>
<rect x="118.07" y="402.00" width="8.87" height="8.87" fill="#a50812"/>
<rect x="136.41" y="402.00" width="8.87" height="8.87" fill="#0616a5"/>
<rect x="145.58" y="402.00" width="8.87" height="8.87" fill="#d00e1e"/>
<rect x="154.75" y="402.00" width="8.87" height="8.87" fill="#ff1c52"/>
<rect x="163.93" y="402.00" width="8.87" height="8.87" fill="#0616a5"/>
<rect x="182.27" y="402.00" width="8.87" height="8.87" fill="#a50812"/>
<rect x="191.44" y="402.00" width="8.87" height="8.87" fill="#d00e1e"/>
<rect x="209.79" y="402.00" width="8.87" height="8.87" fill="#000042"/>
<rect x="218.96" y="402.00" width="8.87" height="8.87" fill="#0c28ca"/>
<rect x="228.13" y="402.00" width="8.87" height="8.87" fill="#000042"/>
<rect x="237.30" y="402.00" width="8.87" height="8.87" fill="#0c28ca"/>
<rect x="246.47" y="402.00" width="8.87" height="8.87" fill="#020780"/>
<rect x="255.65" y="402.00" width="8.87" height="8.87" fill="#020780"/>
<rect x="264.82" y="402.00" width="8.87" height="8.87" fill="#020780"/>
<rect x="273.99" y="402.00" width="8.87" height="8.87" fill="#020780"/>
<rect x="99.72" y="411.17" width="8.87" height="8.87" fill="#70030a"/>
<rect x="108.89" y="411.17" width="8.87" height="8.87" fill="#d00e1e"/>
<rect x="154.75" y="411.17" width="8.87" height="8.87" fill="#ee1434"/>
<rect x="163.93" y="411.17" width="8.87" height="8.87" fill="#0616a5"/>
<rect x="173.10" y="411.17" width="8.87" height="8.87" fill="#70030a"/>
<rect x="182.27" y="411.17" width="8.87" height="8.87" fill="#d00e1e"/>
<rect x="191.44" y="411.17" width="8.87" height="8.87" fill="#70030a"/>
<rect x="209.79" y="411.17" width="8.87" height="8.87" fill="#0c28ca"/>
<rect x="218.96" y="411.17" width="8.87" height="8.87" fill="#000042"/>
<rect x="228.13" y="411.17" width="8.87" height="8.87" fill="#0c28ca"/>
<rect x="237.30" y="411.17" width="8.87" height="8.87" fill="#020780"/>
<rect x="246.47" y="411.17" width="8.87" height="8.87" fill="#020780"/>
<rect x="255.65" y="411.17" width="8.87" height="8.87" fill="#020780"/>
<rect x="264.82" y="411.17" width="8.87" height="8.87" fill="#020780"/>
<rect x="273.99" y="411.17" width="8.87" height="8.87" fill="#020780"/>
<rect x="118.07" y="420.34" width="8.87" height="8.87" fill="#70030a"/>
<rect x="127.24" y="420.34" width="8.87" height="8.87" fill="#020780"/>
<rect x="145.58" y="420.34" width="8.87" height="8.87" fill="#ff1c52"/>
<rect x="154.75" y="420.34" width="8.87" height="8.87" fill="#d00e1e"/>
<rect x="173.10" y="420.34" width="8.87" height="8.87" fill="#0616a5"/>
<rect x="182.27" y="420.34" width="8.87" height="8.87" fill="#ff1c52"/>
<rect x="200.61" y="420.34" width="8.87" height="8.87" fill="#a50812"/>
<rect x="209.79" y="420.34" width="8.87" height="8.87" fill="#020780"/>
<rect x="218.96" y="420.34" width="8.87" height="8.87" fill="#020780"/>
<rect x="228.13" y="420.34" width="8.87" height="8.87" fill="#020780"/>
<rect x="237.30" y="420.34" width="8.87" height="8.87" fill="#020780"/>
<rect x="255.65" y="420.34" width="8.87" height="8.87" fill="#020780"/>
<rect x="264.82" y="420.34" width="8.87" height="8.87" fill="#020780"/>
<rect x="90.55" y="429.51" width="8.87" height="8.87" fill="#d00e1e"/>
<rect x="118.07" y="429.51" width="8.87" height="8.87" fill="#ee1434"/>
<rect x="136.41" y="429.51" width="8.87" height="8.87" fill="#70030a"/>
<rect x="173.10" y="429.51" width="8.87" height="8.87" fill="#0616a5"/>
<rect x="182.27" y="429.51" width="8.87" height="8.87" fill="#ff1c52"/>
<rect x="200.61" y="429.51" width="8.87" height="8.87" fill="#a50812"/>
<rect x="209.79" y="429.51" width="8.87" height="8.87" fill="#020780"/>
<rect x="218.96" y="429.51" width="8.87" height="8.87" fill="#020780"/>
<rect x="228.13" y="429.51" width="8.87" height="8.87" fill="#020780"/>
<rect x="237.30" y="429.51" width="8.87" height="8.87" fill="#0c28ca"/>
<rect x="255.65" y="429.51" width="8.87" height="8.87" fill="#0c28ca"/>
<rect x="273.99" y="429.51" width="8.87" height="8.87" fill="#020780"/>
<rect x="90.55" y="438.67" width="8.87" height="8.87" fill="#ff1c52"/>
<rect x="108.89" y="438.67" width="8.87" height="8.87" fill="#020780"/>
<rect x="118.07" y="438.67" width="8.87" height="8.87" fill="#020780"/>
<rect x="145.58" y="438.67" width="8.87" height="8.87" fill="#ee1434"/>
<rect x="154.75" y="438.67" width="8.87" height="8.87" fill="#d00e1e"/>
<rect x="182.27" y="438.67" width="8.87" height="8.87" fill="#020780"/>
<rect x="200.61" y="438.67" width="8.87" height="8.87" fill="#ee1434"/>
<rect x="209.79" y="438.67" width="8.87" height="8.87" fill="#020780"/>
<rect x="218.96" y="438.67" width="8.87" height="8.87" fill="#020780"/>
<rect x="237.30" y="438.67" width="8.87" height="8.87" fill="#0c28ca"/>
<rect x="246.47" y="438.67" width="8.87" height="8.87" fill="#0c28ca"/>
<rect x="255.65" y="438.67" width="8.87" height="8.87" fill="#020780"/>
<rect x="264.82" y="438.67" width="8.87" height="8.87" fill="#0c28ca"/>
<rect x="273.99" y="438.67" width="8.87" height="8.87" fill="#020780"/>
<rect x="90.55" y="447.84" width="8.87" height="8.87" fill="#d00e1e"/>
<rect x="108.89" y="447.84" width="8.87" height="8.87" fill="#020780"/>
<rect x="118.07" y="447.84" width="8.87" height="8.87" fill="#ee1434"/>
<rect x="136.41" y="447.84" width="8.87" height="8.87" fill="#ee1434"/>
<rect x="145.58" y="447.84" width="8.87" height="8.87" fill="#000042"/>
<rect x="163.93" y="447.84" width="8.87" height="8.87" fill="#340004"/>
<rect x="173.10" y="447.84" width="8.87" height="8.87" fill="#70030a"/>
<rect x="191.44" y="447.84" width="8.87" height="8.87" fill="#ee1434"/>
<rect x="200.61" y="447.84" width="8.87" height="8.87" fill="#d00e1e"/>
<rect x="209.79" y="447.84" width="8.87" height="8.87" fill="#123ae2"/>
<rect x="218.96" y="447.84" width="8.87" height="8.87" fill="#020780"/>
<rect x="228.13" y="447.84" width="8.87" height="8.87" fill="#000042"/>
<rect x="237.30" y="447.84" width="8.87" height="8.87" fill="#0c28ca"/>
<rect x="246.47" y="447.84" width="8.87" height="8.87" fill="#0c28ca"/>
<rect x="255.65" y="447.84" width="8.87" height="8.87" fill="#0c28ca"/>
<rect x="273.99" y="447.84" width="8.87" height="8.87" fill="#0c28ca"/>
<rect x="118.07" y="457.01" width="8.87" height="8.87" fill="#ff1c52"/>
<rect x="136.41" y="457.01" width="8.87" height="8.87" fill="#70030a"/>
<rect x="154.75" y="457.01" width="8.87" height="8.87" fill="#ee1434"/>
<rect x="209.79" y="457.01" width="8.87" height="8.87" fill="#020780"/>
<rect x="218.96" y="457.01" width="8.87" height="8.87" fill="#000042"/>
<rect x="228.13" y="457.01" width="8.87" height="8.87" fill="#020780"/>
<rect x="237.30" y="457.01" width="8.87" height="8.87" fill="#0c28ca"/>
<rect x="246.47" y="457.01" width="8.87" height="8.87" fill="#0c28ca"/>
<rect x="255.65" y="457.01" width="8.87" height="8.87" fill="#020780"/>
<rect x="264.82" y="457.01" width="8.87" height="8.87" fill="#020780"/>
<rect x="273.99" y="457.01" width="8.87" height="8.87" fill="#020780"/>
<rect x="90.55" y="466.18" width="8.87" height="8.87" fill="#ff1c52"/>
<rect x="99.72" y="466.18" width="8.87" height="8.87" fill="#0616a5"/>
<rect x="154.75" y="466.18" width="8.87" height="8.87" fill="#d00e1e"/>
<rect x="182.27" y="466.18" width="8.87" height="8.87" fill="#ff1c52"/>
<rect x="200.61" y="466.18" width="8.87" height="8.87" fill="#d00e1e"/>
<rect x="209.79" y="466.18" width="8.87" height="8.87" fill="#020780"/>
<rect x="218.96" y="466.18" width="8.87" height="8.87" fill="#020780"/>
<rect x="228.13" y="466.18" width="8.87" height="8.87" fill="#020780"/>
<rect x="237.30" y="466.18" width="8.87" height="8.87" fill="#020780"/>
<rect x="246.47" y="466.18" width="8.87" height="8.87" fill="#0c28ca"/>
<rect x="255.65" y="466.18" width="8.87" height="8.87" fill="#0c28ca"/>
<rect x="264.82" y="466.18" width="8.87" height="8.87" fill="#0c28ca"/>
<rect x="118.07" y="475.35" width="8.87" height="8.87" fill="#ff1c52"/>
<rect x="127.24" y="475.35" width="8.87" height="8.87" fill="#ff1c52"/>
<rect x="145.58" y="475.35" width="8.87" height="8.87" fill="#70030a"/>
<rect x="163.93" y="475.35" width="8.87" height="8.87" fill="#70030a"/>
<rect x="173.10" y="475.35" width="8.87" height="8.87" fill="#020780"/>
<rect x="191.44" y="475.35" width="8.87" height="8.87" fill="#340004"/>
<rect x="209.79" y="475.35" width="8.87" height="8.87" fill="#020780"/>
<rect x="218.96" y="475.35" width="8.87" height="8.87" fill="#0c28ca"/>
<rect x="228.13" y="475.35" width="8.87" height="8.87" fill="#020780"/>
<rect x="237.30" y="475.35" width="8.87" height="8.87" fill="#123ae2"/>
<rect x="255.65" y="475.35" width="8.87" height="8.87" fill="#0c28ca"/>
<rect x="273.99" y="475.35" width="8.87" height="8.87" fill="#020780"/>
<rect x="90.55" y="484.51" width="8.87" height="8.87" fill="#ff1c52"/>
<rect x="145.58" y="484.51" width="8.87" height="8.87" fill="#a50812"/>
<rect x="154.75" y="484.51" width="8.87" height="8.87" fill="#ee1434"/>
<rect x="200.61" y="484.51" width="8.87" height="8.87" fill="#ff1c52"/>
<rect x="209.79" y="484.51" width="8.87" height="8.87" fill="#0c28ca"/>
<rect x="218.96" y="484.51" width="8.87" height="8.87" fill="#0c28ca"/>
<rect x="228.13" y="484.51" width="8.87" height="8.87" fill="#000042"/>
<rect x="237.30" y="484.51" width="8.87" height="8.87" fill="#020780"/>
<rect x="246.47" y="484.51" width="8.87" height="8.87" fill="#0616a5"/>
<rect x="255.65" y="484.51" width="8.87" height="8.87" fill="#0616a5"/>
<rect x="264.82" y="484.51" width="8.87" height="8.87" fill="#0c28ca"/>
<rect x="273.99" y="484.51" width="8.87" height="8.87" fill="#020780"/>
<rect x="90.55" y="493.68" width="8.87" height="8.87" fill="#ff1c52"/>
<rect x="108.89" y="493.68" width="8.87" height="8.87" fill="#000042"/>
<rect x="118.07" y="493.68" width="8.87" height="8.87" fill="#020780"/>
<rect x="127.24" y="493.68" width="8.87" height="8.87" fill="#d00e1e"/>
<rect x="145.58" y="493.68" width="8.87" height="8.87" fill="#ff1c52"/>
<rect x="163.93" y="493.68" width="8.87" height="8.87" fill="#a50812"/>
<rect x="209.79" y="493.68" width="8.87" height="8.87" fill="#0616a5"/>
<rect x="218.96" y="493.68" width="8.87" height="8.87" fill="#020780"/>
<rect x="228.13" y="493.68" width="8.87" height="8.87" fill="#0c28ca"/>
<rect x="246.47" y="493.68" width="8.87" height="8.87" fill="#0c28ca"/>
<rect x="255.65" y="493.68" width="8.87" height="8.87" fill="#0c28ca"/>
<rect x="273.99" y="493.68" width="8.87" height="8.87" fill="#020780"/>
</g>
<text transform="translate(304.50 51.00) scale(0.92 1)" class="g" text-anchor="middle">3.6</text>
<text transform="translate(325.30 51.00) scale(0.915 1)" class="g" text-anchor="start">cell division cycle 6 (CDC6)</text>
<text transform="translate(304.50 60.22) scale(0.92 1)" class="g" text-anchor="middle">3.5</text>
<text transform="translate(325.30 60.22) scale(0.915 1)" class="g" text-anchor="start">hypothetical protein MAC30 (MAC30)</text>
<text transform="translate(304.50 69.43) scale(0.92 1)" class="g" text-anchor="middle">3.3</text>
<text transform="translate(325.30 69.43) scale(0.915 1)" class="g" text-anchor="start">proliferating cell nuclear antigen (PCNA)</text>
<text transform="translate(304.50 78.65) scale(0.92 1)" class="g" text-anchor="middle">3.2</text>
<text transform="translate(325.30 78.65) scale(0.915 1)" class="g" text-anchor="start">cyclin E1 (CCNE1)</text>
<text transform="translate(304.50 87.86) scale(0.92 1)" class="g" text-anchor="middle">3.0</text>
<text transform="translate(325.30 87.86) scale(0.915 1)" class="g" text-anchor="start">block of proliferation (BOP1)</text>
<text transform="translate(304.50 97.08) scale(0.92 1)" class="g" text-anchor="middle">4.5</text>
<text transform="translate(325.30 97.08) scale(0.915 1)" class="g" text-anchor="start">guanine nucleotide binding protein (G protein), alpha (GNAZ)</text>
<text transform="translate(304.50 106.30) scale(0.92 1)" class="g" text-anchor="middle">3.6</text>
<text transform="translate(325.30 106.30) scale(0.915 1)" class="g" text-anchor="start">recQ protein-like 4* (RECQ)</text>
<text transform="translate(304.50 115.51) scale(0.92 1)" class="g" text-anchor="middle">3.3</text>
<text transform="translate(325.30 115.51) scale(0.915 1)" class="g" text-anchor="start">replication factor C (activator 1) 5 (RFC5)</text>
<text transform="translate(304.50 124.73) scale(0.92 1)" class="g" text-anchor="middle">3.2</text>
<text transform="translate(325.30 124.73) scale(0.915 1)" class="g" text-anchor="start">replication factor C (activator 1) 3, 38-kDa (RFC3)</text>
<text transform="translate(304.50 133.94) scale(0.92 1)" class="g" text-anchor="middle">3.0</text>
<text transform="translate(325.30 133.94) scale(0.915 1)" class="g" text-anchor="start">DNA polymerase, epsilon (POLE)</text>
<text transform="translate(304.50 143.16) scale(0.92 1)" class="g" text-anchor="middle">3.0</text>
<text transform="translate(325.30 143.16) scale(0.915 1)" class="g" text-anchor="start">H2A histone family, member X (H2AFX)</text>
<text transform="translate(304.50 152.38) scale(0.92 1)" class="g" text-anchor="middle">3.0</text>
<text transform="translate(325.30 152.38) scale(0.915 1)" class="g" text-anchor="start">CTP synthetase (CTPS)</text>
<text transform="translate(304.50 161.59) scale(0.92 1)" class="g" text-anchor="middle">3.0</text>
<text transform="translate(325.30 161.59) scale(0.915 1)" class="g" text-anchor="start">thymidylate syntase (TYMS)</text>
<text transform="translate(304.50 170.81) scale(0.92 1)" class="g" text-anchor="middle">4.9</text>
<text transform="translate(325.30 170.81) scale(0.915 1)" class="g" text-anchor="start">immunoglobulin mu heavy chain enhancer and constant region (IGHM)</text>
<text transform="translate(304.50 180.02) scale(0.92 1)" class="g" text-anchor="middle">4.8</text>
<text transform="translate(325.30 180.02) scale(0.915 1)" class="g" text-anchor="start">IgM heavy chain constant region (IGHM)</text>
<text transform="translate(304.50 189.24) scale(0.92 1)" class="g" text-anchor="middle">4.3</text>
<text transform="translate(325.30 189.24) scale(0.915 1)" class="g" text-anchor="start">pim-2 protooncogene (PIM2)</text>
<text transform="translate(304.50 198.46) scale(0.92 1)" class="g" text-anchor="middle">4.0</text>
<text transform="translate(325.30 198.46) scale(0.915 1)" class="g" text-anchor="start">tumor necrosis factor receptor superfamily, member 13B (TACI)</text>
<text transform="translate(304.50 207.67) scale(0.92 1)" class="g" text-anchor="middle">3.9</text>
<text transform="translate(325.30 207.67) scale(0.915 1)" class="g" text-anchor="start">IgM heavy chain constant region (IGHM)</text>
<text transform="translate(304.50 216.89) scale(0.92 1)" class="g" text-anchor="middle">3.5</text>
<text transform="translate(325.30 216.89) scale(0.915 1)" class="g" text-anchor="start">PDZ and LIM domain 1 (elfin) (PDLIM1)</text>
<text transform="translate(304.50 226.10) scale(0.92 1)" class="g" text-anchor="middle">3.2</text>
<text transform="translate(325.30 226.10) scale(0.915 1)" class="g" text-anchor="start">B lymphoid tyrosine kinase (BLK)</text>
<text transform="translate(304.50 235.32) scale(0.92 1)" class="g" text-anchor="middle">3.0</text>
<text transform="translate(325.30 235.32) scale(0.915 1)" class="g" text-anchor="start">hemopoietic cell protein-tyrosine kinase (HCK)</text>
<text transform="translate(304.50 244.54) scale(0.92 1)" class="g" text-anchor="middle">3.0</text>
<text transform="translate(325.30 244.54) scale(0.915 1)" class="g" text-anchor="start">pim-1oncogene (PIM1)</text>
<text transform="translate(304.50 253.75) scale(0.92 1)" class="g" text-anchor="middle">3.0</text>
<text transform="translate(325.30 253.75) scale(0.915 1)" class="g" text-anchor="start">pim-1 oncogene (PIM1)</text>
<text transform="translate(304.50 262.97) scale(0.92 1)" class="g" text-anchor="middle">3.0</text>
<text transform="translate(325.30 262.97) scale(0.915 1)" class="g" text-anchor="start">lyn tyrosine kinase (LYN)</text>
<text transform="translate(304.50 272.18) scale(0.92 1)" class="g" text-anchor="middle">5.6</text>
<text transform="translate(325.30 272.18) scale(0.915 1)" class="g" text-anchor="start">c-myc oncogene (MYC)</text>
<text transform="translate(304.50 281.35) scale(0.92 1)" class="g" text-anchor="middle">4.8</text>
<text transform="translate(325.30 281.35) scale(0.915 1)" class="g" text-anchor="start">interferon regulatory factor 4 (Mum-1) (IRF4)</text>
<text transform="translate(304.50 290.52) scale(0.92 1)" class="g" text-anchor="middle">4.2</text>
<text transform="translate(325.30 290.52) scale(0.915 1)" class="g" text-anchor="start">forkhead box C1* (FOXC1)</text>
<text transform="translate(304.50 299.70) scale(0.92 1)" class="g" text-anchor="middle">3.9</text>
<text transform="translate(325.30 299.70) scale(0.915 1)" class="g" text-anchor="start">c-myc oncogene (MYC)</text>
<text transform="translate(304.50 308.87) scale(0.92 1)" class="g" text-anchor="middle">3.8</text>
<text transform="translate(325.30 308.87) scale(0.915 1)" class="g" text-anchor="start">PHD finger protein 16 (PHF16)</text>
<text transform="translate(304.50 318.04) scale(0.92 1)" class="g" text-anchor="middle">3.8</text>
<text transform="translate(325.30 318.04) scale(0.915 1)" class="g" text-anchor="start">transcription factor Dp-1 (TFDP1)</text>
<text transform="translate(304.50 327.21) scale(0.92 1)" class="g" text-anchor="middle">3.3</text>
<text transform="translate(325.30 327.21) scale(0.915 1)" class="g" text-anchor="start">eta variant gene 6 (TEL)</text>
<text transform="translate(304.50 336.38) scale(0.92 1)" class="g" text-anchor="middle">3.3</text>
<text transform="translate(325.30 336.38) scale(0.915 1)" class="g" text-anchor="start">POU domain class 2 transcription factor 2* (Oct-2) (POU2F2)</text>
<text transform="translate(304.50 345.56) scale(0.92 1)" class="g" text-anchor="middle">3.3</text>
<text transform="translate(325.30 345.56) scale(0.915 1)" class="g" text-anchor="start">v-myb myeloblastosis viral oncogene homolog (avian)-like 2 (MYBL2)</text>
<text transform="translate(304.50 354.73) scale(0.92 1)" class="g" text-anchor="middle">3.0</text>
<text transform="translate(325.30 354.73) scale(0.915 1)" class="g" text-anchor="start">DNA polymerase, delta 1, catalytic subunit*</text>
<text transform="translate(304.50 363.90) scale(0.92 1)" class="g" text-anchor="middle">3.0</text>
<text transform="translate(325.30 363.90) scale(0.915 1)" class="g" text-anchor="start">TGFB-induced factor (TALE family homeobox) (TGIF)</text>
<text transform="translate(304.50 373.07) scale(0.92 1)" class="g" text-anchor="middle">8.4</text>
<text transform="translate(325.30 373.07) scale(0.915 1)" class="g" text-anchor="start">actin, gamma 2*</text>
<text transform="translate(304.50 382.24) scale(0.92 1)" class="g" text-anchor="middle">4.6</text>
<text transform="translate(325.30 382.24) scale(0.915 1)" class="g" text-anchor="start">glycoprotein M6A</text>
<text transform="translate(304.50 391.42) scale(0.92 1)" class="g" text-anchor="middle">4.5</text>
<text transform="translate(325.30 391.42) scale(0.915 1)" class="g" text-anchor="start">hypothetical protein MGC2574*</text>
<text transform="translate(304.50 400.59) scale(0.92 1)" class="g" text-anchor="middle">4.0</text>
<text transform="translate(325.30 400.59) scale(0.915 1)" class="g" text-anchor="start">Homo sapiens clone DT1P1B6</text>
<text transform="translate(304.50 409.76) scale(0.92 1)" class="g" text-anchor="middle">3.5</text>
<text transform="translate(325.30 409.76) scale(0.915 1)" class="g" text-anchor="start">drebrin 1 (DBN1)</text>
<text transform="translate(304.50 418.93) scale(0.92 1)" class="g" text-anchor="middle">3.5</text>
<text transform="translate(325.30 418.93) scale(0.915 1)" class="g" text-anchor="start">hypothetical gene supported by AF038182</text>
<text transform="translate(304.50 428.10) scale(0.92 1)" class="g" text-anchor="middle">3.5</text>
<text transform="translate(325.30 428.10) scale(0.915 1)" class="g" text-anchor="start">KIAA0014 gene product</text>
<text transform="translate(304.50 437.28) scale(0.92 1)" class="g" text-anchor="middle">3.3</text>
<text transform="translate(325.30 437.28) scale(0.915 1)" class="g" text-anchor="start">apolipoprotein C-IV (APOC4)</text>
<text transform="translate(304.50 446.45) scale(0.92 1)" class="g" text-anchor="middle">3.3</text>
<text transform="translate(325.30 446.45) scale(0.915 1)" class="g" text-anchor="start">similar to C630007C17Rik protein</text>
<text transform="translate(304.50 455.62) scale(0.92 1)" class="g" text-anchor="middle">3.3</text>
<text transform="translate(325.30 455.62) scale(0.915 1)" class="g" text-anchor="start">Opa-interacting protein (OIP5)</text>
<text transform="translate(304.50 464.79) scale(0.92 1)" class="g" text-anchor="middle">3.3</text>
<text transform="translate(325.30 464.79) scale(0.915 1)" class="g" text-anchor="start">KIAA0802 gene product</text>
<text transform="translate(304.50 473.96) scale(0.92 1)" class="g" text-anchor="middle">3.0</text>
<text transform="translate(325.30 473.96) scale(0.915 1)" class="g" text-anchor="start">transferrin receptor p90/CD71 (TFRC)</text>
<text transform="translate(304.50 483.14) scale(0.92 1)" class="g" text-anchor="middle">3.0</text>
<text transform="translate(325.30 483.14) scale(0.915 1)" class="g" text-anchor="start">Homo sapiens clone DKFZp56F093</text>
<text transform="translate(304.50 492.31) scale(0.92 1)" class="g" text-anchor="middle">3.0</text>
<text transform="translate(325.30 492.31) scale(0.915 1)" class="g" text-anchor="start">cytoskeleton-associated protein 4</text>
<text transform="translate(304.50 501.48) scale(0.92 1)" class="g" text-anchor="middle">3.0</text>
<text transform="translate(325.30 501.48) scale(0.915 1)" class="g" text-anchor="start">KIAA0690 gene product*</text>
<rect x="78.00" y="44.80" width="2.0" height="44.44" fill="#111"/>
<rect x="72.10" y="90.64" width="2.0" height="71.94" fill="#111"/>
<rect x="78.00" y="163.98" width="2.0" height="99.45" fill="#111"/>
<rect x="72.10" y="264.83" width="2.0" height="99.45" fill="#111"/>
<rect x="78.00" y="365.68" width="2.0" height="136.12" fill="#111"/>
<text x="41.10" y="65.20" class="l" text-anchor="middle">Cell cycle /</text>
<text x="41.10" y="73.60" class="l" text-anchor="middle">proliferation</text>
<text x="28.90" y="117.00" class="l" text-anchor="middle">DNA synthesis /</text>
<text x="29.70" y="125.40" class="l" text-anchor="middle">replication /</text>
<text x="29.80" y="133.50" class="l" text-anchor="middle">repair</text>
<text x="43.00" y="214.00" class="l" text-anchor="middle">Signaling</text>
<text x="39.20" y="310.20" class="l" text-anchor="middle">Transcription</text>
<text x="39.20" y="318.60" class="l" text-anchor="middle">regulation</text>
<text x="37.90" y="433.60" class="l" text-anchor="middle">Miscellaneous</text>
<rect x="84.25" y="557.80" width="123.50" height="5.0" fill="#3c8c1c" stroke="#1f470c" stroke-width="0.9"/>
<rect x="209.65" y="557.80" width="75.50" height="5.0" fill="#f6f23c" stroke="#5e5e14" stroke-width="0.9"/>
<path d="M87.50 557.00 C87.50 549.10 89.50 548.10 96.00 548.10 L142.00 548.10 C145.50 548.10 147.00 546.10 147.00 542.10 C147.00 546.10 148.50 548.10 152.00 548.10 L198.00 548.10 C204.50 548.10 206.50 549.10 206.50 557.00" fill="none" stroke="#111" stroke-width="1.3"/>
<path d="M211.50 557.00 C211.50 549.10 213.50 548.10 220.00 548.10 L241.40 548.10 C244.90 548.10 246.40 546.10 246.40 542.10 C246.40 546.10 247.90 548.10 251.40 548.10 L272.80 548.10 C279.30 548.10 281.30 549.10 281.30 557.00" fill="none" stroke="#111" stroke-width="1.3"/>
<text x="146.8" y="538.2" class="h" text-anchor="middle" style="font-size:14.2px">PCLBCL-leg</text>
<text x="247.1" y="538.2" class="h" text-anchor="middle" style="font-size:13.95px">PCFCCL</text>
<text transform="translate(79.50 570.20) scale(0.87 1)" class="cs" text-anchor="end">Case</text>
<text transform="translate(88.50 570.60) scale(0.82 1)" class="c" text-anchor="middle">16</text>
<text transform="translate(98.10 570.60) scale(0.82 1)" class="c" text-anchor="middle">17</text>
<text transform="translate(107.70 570.60) scale(0.82 1)" class="c" text-anchor="middle">20</text>
<text transform="translate(117.30 570.60) scale(0.82 1)" class="c" text-anchor="middle">19</text>
<text transform="translate(126.90 570.60) scale(0.82 1)" class="c" text-anchor="middle">18</text>
<text transform="translate(136.50 570.60) scale(0.82 1)" class="c" text-anchor="middle">10</text>
<text transform="translate(146.10 570.60) scale(0.82 1)" class="c" text-anchor="middle">13</text>
<text transform="translate(157.20 570.60) scale(0.82 1)" class="c" text-anchor="middle">15</text>
<text transform="translate(165.30 570.60) scale(0.82 1)" class="c" text-anchor="middle">9</text>
<text transform="translate(174.90 570.60) scale(0.82 1)" class="c" text-anchor="middle">11</text>
<text transform="translate(183.70 570.60) scale(0.82 1)" class="c" text-anchor="middle">12</text>
<text transform="translate(193.30 570.60) scale(0.82 1)" class="c" text-anchor="middle">14</text>
<text transform="translate(202.90 570.60) scale(0.82 1)" class="c" text-anchor="middle">21</text>
<text transform="translate(213.30 570.60) scale(0.82 1)" class="c" text-anchor="middle">4</text>
<text transform="translate(222.90 570.60) scale(0.82 1)" class="c" text-anchor="middle">2</text>
<text transform="translate(232.50 570.60) scale(0.82 1)" class="c" text-anchor="middle">3</text>
<text transform="translate(242.10 570.60) scale(0.82 1)" class="c" text-anchor="middle">1</text>
<text transform="translate(251.70 570.60) scale(0.82 1)" class="c" text-anchor="middle">5</text>
<text transform="translate(261.30 570.60) scale(0.82 1)" class="c" text-anchor="middle">6</text>
<text transform="translate(270.90 570.60) scale(0.82 1)" class="c" text-anchor="middle">8</text>
<text transform="translate(280.50 570.60) scale(0.82 1)" class="c" text-anchor="middle">7</text>
<text transform="translate(291.00 570.30) scale(0.875 1)" class="f" text-anchor="start">Fold change</text>
<g filter="url(#bl)">
<rect x="84.20" y="573.40" width="201.60" height="240.72" fill="#000"/>
<rect x="84.35" y="573.55" width="9.30" height="9.73" fill="#0c28ca"/>
<rect x="113.15" y="573.55" width="9.30" height="9.73" fill="#020780"/>
<rect x="122.75" y="573.55" width="9.30" height="9.73" fill="#020780"/>
<rect x="141.95" y="573.55" width="9.30" height="9.73" fill="#0c28ca"/>
<rect x="151.55" y="573.55" width="9.30" height="9.73" fill="#0c28ca"/>
<rect x="180.35" y="573.55" width="9.30" height="9.73" fill="#020780"/>
<rect x="189.95" y="573.55" width="9.30" height="9.73" fill="#0c28ca"/>
<rect x="199.55" y="573.55" width="9.30" height="9.73" fill="#020780"/>
<rect x="209.15" y="573.55" width="9.30" height="9.73" fill="#ff1c52"/>
<rect x="247.55" y="573.55" width="9.30" height="9.73" fill="#d00e1e"/>
<rect x="257.15" y="573.55" width="9.30" height="9.73" fill="#d00e1e"/>
<rect x="276.35" y="573.55" width="9.30" height="9.73" fill="#70030a"/>
<rect x="84.35" y="583.58" width="9.30" height="9.73" fill="#020780"/>
<rect x="93.95" y="583.58" width="9.30" height="9.73" fill="#020780"/>
<rect x="113.15" y="583.58" width="9.30" height="9.73" fill="#0c28ca"/>
<rect x="122.75" y="583.58" width="9.30" height="9.73" fill="#0616a5"/>
<rect x="132.35" y="583.58" width="9.30" height="9.73" fill="#d00e1e"/>
<rect x="141.95" y="583.58" width="9.30" height="9.73" fill="#0c28ca"/>
<rect x="151.55" y="583.58" width="9.30" height="9.73" fill="#020780"/>
<rect x="161.15" y="583.58" width="9.30" height="9.73" fill="#020780"/>
<rect x="180.35" y="583.58" width="9.30" height="9.73" fill="#0616a5"/>
<rect x="189.95" y="583.58" width="9.30" height="9.73" fill="#0c28ca"/>
<rect x="199.55" y="583.58" width="9.30" height="9.73" fill="#020780"/>
<rect x="237.95" y="583.58" width="9.30" height="9.73" fill="#d00e1e"/>
<rect x="247.55" y="583.58" width="9.30" height="9.73" fill="#a50812"/>
<rect x="266.75" y="583.58" width="9.30" height="9.73" fill="#ff1c52"/>
<rect x="84.35" y="593.61" width="9.30" height="9.73" fill="#020780"/>
<rect x="103.55" y="593.61" width="9.30" height="9.73" fill="#020780"/>
<rect x="132.35" y="593.61" width="9.30" height="9.73" fill="#020780"/>
<rect x="141.95" y="593.61" width="9.30" height="9.73" fill="#0616a5"/>
<rect x="151.55" y="593.61" width="9.30" height="9.73" fill="#0616a5"/>
<rect x="170.75" y="593.61" width="9.30" height="9.73" fill="#020780"/>
<rect x="180.35" y="593.61" width="9.30" height="9.73" fill="#0616a5"/>
<rect x="189.95" y="593.61" width="9.30" height="9.73" fill="#020780"/>
<rect x="199.55" y="593.61" width="9.30" height="9.73" fill="#020780"/>
<rect x="209.15" y="593.61" width="9.30" height="9.73" fill="#70030a"/>
<rect x="237.95" y="593.61" width="9.30" height="9.73" fill="#a50812"/>
<rect x="247.55" y="593.61" width="9.30" height="9.73" fill="#ee1434"/>
<rect x="276.35" y="593.61" width="9.30" height="9.73" fill="#ff1c52"/>
<rect x="84.35" y="603.64" width="9.30" height="9.73" fill="#020780"/>
<rect x="103.55" y="603.64" width="9.30" height="9.73" fill="#020780"/>
<rect x="113.15" y="603.64" width="9.30" height="9.73" fill="#020780"/>
<rect x="132.35" y="603.64" width="9.30" height="9.73" fill="#020780"/>
<rect x="141.95" y="603.64" width="9.30" height="9.73" fill="#020780"/>
<rect x="161.15" y="603.64" width="9.30" height="9.73" fill="#020780"/>
<rect x="170.75" y="603.64" width="9.30" height="9.73" fill="#020780"/>
<rect x="180.35" y="603.64" width="9.30" height="9.73" fill="#020780"/>
<rect x="189.95" y="603.64" width="9.30" height="9.73" fill="#020780"/>
<rect x="199.55" y="603.64" width="9.30" height="9.73" fill="#0616a5"/>
<rect x="218.75" y="603.64" width="9.30" height="9.73" fill="#a50812"/>
<rect x="228.35" y="603.64" width="9.30" height="9.73" fill="#ff1c52"/>
<rect x="237.95" y="603.64" width="9.30" height="9.73" fill="#d00e1e"/>
<rect x="266.75" y="603.64" width="9.30" height="9.73" fill="#ff1c52"/>
<rect x="276.35" y="603.64" width="9.30" height="9.73" fill="#d00e1e"/>
<rect x="84.35" y="613.67" width="9.30" height="9.73" fill="#0616a5"/>
<rect x="93.95" y="613.67" width="9.30" height="9.73" fill="#020780"/>
<rect x="122.75" y="613.67" width="9.30" height="9.73" fill="#0c28ca"/>
<rect x="132.35" y="613.67" width="9.30" height="9.73" fill="#0c28ca"/>
<rect x="141.95" y="613.67" width="9.30" height="9.73" fill="#0c28ca"/>
<rect x="151.55" y="613.67" width="9.30" height="9.73" fill="#0c28ca"/>
<rect x="161.15" y="613.67" width="9.30" height="9.73" fill="#020780"/>
<rect x="180.35" y="613.67" width="9.30" height="9.73" fill="#020780"/>
<rect x="189.95" y="613.67" width="9.30" height="9.73" fill="#000042"/>
<rect x="199.55" y="613.67" width="9.30" height="9.73" fill="#0616a5"/>
<rect x="209.15" y="613.67" width="9.30" height="9.73" fill="#ff1c52"/>
<rect x="237.95" y="613.67" width="9.30" height="9.73" fill="#d00e1e"/>
<rect x="247.55" y="613.67" width="9.30" height="9.73" fill="#ee1434"/>
<rect x="257.15" y="613.67" width="9.30" height="9.73" fill="#a50812"/>
<rect x="276.35" y="613.67" width="9.30" height="9.73" fill="#ff1c52"/>
<rect x="84.35" y="623.70" width="9.30" height="9.73" fill="#020780"/>
<rect x="113.15" y="623.70" width="9.30" height="9.73" fill="#020780"/>
<rect x="122.75" y="623.70" width="9.30" height="9.73" fill="#020780"/>
<rect x="141.95" y="623.70" width="9.30" height="9.73" fill="#020780"/>
<rect x="151.55" y="623.70" width="9.30" height="9.73" fill="#020780"/>
<rect x="161.15" y="623.70" width="9.30" height="9.73" fill="#020780"/>
<rect x="170.75" y="623.70" width="9.30" height="9.73" fill="#020780"/>
<rect x="180.35" y="623.70" width="9.30" height="9.73" fill="#0616a5"/>
<rect x="189.95" y="623.70" width="9.30" height="9.73" fill="#0616a5"/>
<rect x="199.55" y="623.70" width="9.30" height="9.73" fill="#020780"/>
<rect x="218.75" y="623.70" width="9.30" height="9.73" fill="#ff1c52"/>
<rect x="228.35" y="623.70" width="9.30" height="9.73" fill="#d00e1e"/>
<rect x="276.35" y="623.70" width="9.30" height="9.73" fill="#d00e1e"/>
<rect x="84.35" y="633.73" width="9.30" height="9.73" fill="#0c28ca"/>
<rect x="113.15" y="633.73" width="9.30" height="9.73" fill="#020780"/>
<rect x="122.75" y="633.73" width="9.30" height="9.73" fill="#0c28ca"/>
<rect x="132.35" y="633.73" width="9.30" height="9.73" fill="#a50812"/>
<rect x="141.95" y="633.73" width="9.30" height="9.73" fill="#0c28ca"/>
<rect x="151.55" y="633.73" width="9.30" height="9.73" fill="#0c28ca"/>
<rect x="161.15" y="633.73" width="9.30" height="9.73" fill="#0c28ca"/>
<rect x="170.75" y="633.73" width="9.30" height="9.73" fill="#020780"/>
<rect x="180.35" y="633.73" width="9.30" height="9.73" fill="#0616a5"/>
<rect x="189.95" y="633.73" width="9.30" height="9.73" fill="#0c28ca"/>
<rect x="199.55" y="633.73" width="9.30" height="9.73" fill="#0c28ca"/>
<rect x="237.95" y="633.73" width="9.30" height="9.73" fill="#d00e1e"/>
<rect x="247.55" y="633.73" width="9.30" height="9.73" fill="#ee1434"/>
<rect x="257.15" y="633.73" width="9.30" height="9.73" fill="#ee1434"/>
<rect x="266.75" y="633.73" width="9.30" height="9.73" fill="#ff1c52"/>
<rect x="84.35" y="643.76" width="9.30" height="9.73" fill="#0c28ca"/>
<rect x="113.15" y="643.76" width="9.30" height="9.73" fill="#020780"/>
<rect x="122.75" y="643.76" width="9.30" height="9.73" fill="#0c28ca"/>
<rect x="132.35" y="643.76" width="9.30" height="9.73" fill="#ee1434"/>
<rect x="141.95" y="643.76" width="9.30" height="9.73" fill="#0c28ca"/>
<rect x="151.55" y="643.76" width="9.30" height="9.73" fill="#123ae2"/>
<rect x="161.15" y="643.76" width="9.30" height="9.73" fill="#0c28ca"/>
<rect x="170.75" y="643.76" width="9.30" height="9.73" fill="#020780"/>
<rect x="180.35" y="643.76" width="9.30" height="9.73" fill="#020780"/>
<rect x="189.95" y="643.76" width="9.30" height="9.73" fill="#0c28ca"/>
<rect x="199.55" y="643.76" width="9.30" height="9.73" fill="#0c28ca"/>
<rect x="237.95" y="643.76" width="9.30" height="9.73" fill="#d00e1e"/>
<rect x="247.55" y="643.76" width="9.30" height="9.73" fill="#d00e1e"/>
<rect x="257.15" y="643.76" width="9.30" height="9.73" fill="#ff1c52"/>
<rect x="266.75" y="643.76" width="9.30" height="9.73" fill="#ee1434"/>
<rect x="266.75" y="653.79" width="9.30" height="9.73" fill="#ff1c52"/>
<rect x="276.35" y="653.79" width="9.30" height="9.73" fill="#ff1c52"/>
<rect x="84.35" y="663.82" width="9.30" height="9.73" fill="#020780"/>
<rect x="93.95" y="663.82" width="9.30" height="9.73" fill="#020780"/>
<rect x="103.55" y="663.82" width="9.30" height="9.73" fill="#020780"/>
<rect x="113.15" y="663.82" width="9.30" height="9.73" fill="#020780"/>
<rect x="122.75" y="663.82" width="9.30" height="9.73" fill="#020780"/>
<rect x="141.95" y="663.82" width="9.30" height="9.73" fill="#020780"/>
<rect x="151.55" y="663.82" width="9.30" height="9.73" fill="#020780"/>
<rect x="161.15" y="663.82" width="9.30" height="9.73" fill="#020780"/>
<rect x="170.75" y="663.82" width="9.30" height="9.73" fill="#020780"/>
<rect x="180.35" y="663.82" width="9.30" height="9.73" fill="#020780"/>
<rect x="189.95" y="663.82" width="9.30" height="9.73" fill="#020780"/>
<rect x="199.55" y="663.82" width="9.30" height="9.73" fill="#020780"/>
<rect x="218.75" y="663.82" width="9.30" height="9.73" fill="#d00e1e"/>
<rect x="228.35" y="663.82" width="9.30" height="9.73" fill="#ff1c52"/>
<rect x="237.95" y="663.82" width="9.30" height="9.73" fill="#70030a"/>
<rect x="257.15" y="663.82" width="9.30" height="9.73" fill="#70030a"/>
<rect x="266.75" y="663.82" width="9.30" height="9.73" fill="#a50812"/>
<rect x="276.35" y="663.82" width="9.30" height="9.73" fill="#ff1c52"/>
<rect x="84.35" y="673.85" width="9.30" height="9.73" fill="#020780"/>
<rect x="113.15" y="673.85" width="9.30" height="9.73" fill="#020780"/>
<rect x="151.55" y="673.85" width="9.30" height="9.73" fill="#000042"/>
<rect x="161.15" y="673.85" width="9.30" height="9.73" fill="#020780"/>
<rect x="170.75" y="673.85" width="9.30" height="9.73" fill="#020780"/>
<rect x="180.35" y="673.85" width="9.30" height="9.73" fill="#000042"/>
<rect x="209.15" y="673.85" width="9.30" height="9.73" fill="#ff1c52"/>
<rect x="247.55" y="673.85" width="9.30" height="9.73" fill="#a50812"/>
<rect x="257.15" y="673.85" width="9.30" height="9.73" fill="#ee1434"/>
<rect x="84.35" y="683.88" width="9.30" height="9.73" fill="#0c28ca"/>
<rect x="113.15" y="683.88" width="9.30" height="9.73" fill="#020780"/>
<rect x="122.75" y="683.88" width="9.30" height="9.73" fill="#020780"/>
<rect x="141.95" y="683.88" width="9.30" height="9.73" fill="#0c28ca"/>
<rect x="151.55" y="683.88" width="9.30" height="9.73" fill="#0c28ca"/>
<rect x="161.15" y="683.88" width="9.30" height="9.73" fill="#020780"/>
<rect x="180.35" y="683.88" width="9.30" height="9.73" fill="#020780"/>
<rect x="199.55" y="683.88" width="9.30" height="9.73" fill="#0616a5"/>
<rect x="209.15" y="683.88" width="9.30" height="9.73" fill="#70030a"/>
<rect x="218.75" y="683.88" width="9.30" height="9.73" fill="#ff1c52"/>
<rect x="237.95" y="683.88" width="9.30" height="9.73" fill="#d00e1e"/>
<rect x="247.55" y="683.88" width="9.30" height="9.73" fill="#ff1c52"/>
<rect x="266.75" y="683.88" width="9.30" height="9.73" fill="#020780"/>
<rect x="276.35" y="683.88" width="9.30" height="9.73" fill="#020780"/>
<rect x="84.35" y="693.91" width="9.30" height="9.73" fill="#020780"/>
<rect x="93.95" y="693.91" width="9.30" height="9.73" fill="#020780"/>
<rect x="113.15" y="693.91" width="9.30" height="9.73" fill="#000042"/>
<rect x="122.75" y="693.91" width="9.30" height="9.73" fill="#020780"/>
<rect x="132.35" y="693.91" width="9.30" height="9.73" fill="#020780"/>
<rect x="141.95" y="693.91" width="9.30" height="9.73" fill="#020780"/>
<rect x="151.55" y="693.91" width="9.30" height="9.73" fill="#020780"/>
<rect x="161.15" y="693.91" width="9.30" height="9.73" fill="#020780"/>
<rect x="170.75" y="693.91" width="9.30" height="9.73" fill="#020780"/>
<rect x="180.35" y="693.91" width="9.30" height="9.73" fill="#020780"/>
<rect x="199.55" y="693.91" width="9.30" height="9.73" fill="#020780"/>
<rect x="209.15" y="693.91" width="9.30" height="9.73" fill="#a50812"/>
<rect x="218.75" y="693.91" width="9.30" height="9.73" fill="#ff1c52"/>
<rect x="228.35" y="693.91" width="9.30" height="9.73" fill="#70030a"/>
<rect x="247.55" y="693.91" width="9.30" height="9.73" fill="#340004"/>
<rect x="257.15" y="693.91" width="9.30" height="9.73" fill="#d00e1e"/>
<rect x="276.35" y="693.91" width="9.30" height="9.73" fill="#a50812"/>
<rect x="84.35" y="703.94" width="9.30" height="9.73" fill="#0c28ca"/>
<rect x="103.55" y="703.94" width="9.30" height="9.73" fill="#020780"/>
<rect x="122.75" y="703.94" width="9.30" height="9.73" fill="#020780"/>
<rect x="151.55" y="703.94" width="9.30" height="9.73" fill="#0c28ca"/>
<rect x="170.75" y="703.94" width="9.30" height="9.73" fill="#020780"/>
<rect x="180.35" y="703.94" width="9.30" height="9.73" fill="#020780"/>
<rect x="199.55" y="703.94" width="9.30" height="9.73" fill="#020780"/>
<rect x="209.15" y="703.94" width="9.30" height="9.73" fill="#70030a"/>
<rect x="237.95" y="703.94" width="9.30" height="9.73" fill="#ff1c52"/>
<rect x="257.15" y="703.94" width="9.30" height="9.73" fill="#70030a"/>
<rect x="266.75" y="703.94" width="9.30" height="9.73" fill="#70030a"/>
<rect x="276.35" y="703.94" width="9.30" height="9.73" fill="#ff1c52"/>
<rect x="84.35" y="713.97" width="9.30" height="9.73" fill="#020780"/>
<rect x="103.55" y="713.97" width="9.30" height="9.73" fill="#020780"/>
<rect x="141.95" y="713.97" width="9.30" height="9.73" fill="#020780"/>
<rect x="170.75" y="713.97" width="9.30" height="9.73" fill="#020780"/>
<rect x="180.35" y="713.97" width="9.30" height="9.73" fill="#020780"/>
<rect x="189.95" y="713.97" width="9.30" height="9.73" fill="#020780"/>
<rect x="199.55" y="713.97" width="9.30" height="9.73" fill="#000042"/>
<rect x="247.55" y="713.97" width="9.30" height="9.73" fill="#ff1c52"/>
<rect x="276.35" y="713.97" width="9.30" height="9.73" fill="#d00e1e"/>
<rect x="84.35" y="724.00" width="9.30" height="9.73" fill="#0616a5"/>
<rect x="93.95" y="724.00" width="9.30" height="9.73" fill="#020780"/>
<rect x="103.55" y="724.00" width="9.30" height="9.73" fill="#70030a"/>
<rect x="113.15" y="724.00" width="9.30" height="9.73" fill="#020780"/>
<rect x="122.75" y="724.00" width="9.30" height="9.73" fill="#0616a5"/>
<rect x="132.35" y="724.00" width="9.30" height="9.73" fill="#0616a5"/>
<rect x="141.95" y="724.00" width="9.30" height="9.73" fill="#0616a5"/>
<rect x="151.55" y="724.00" width="9.30" height="9.73" fill="#0616a5"/>
<rect x="161.15" y="724.00" width="9.30" height="9.73" fill="#020780"/>
<rect x="180.35" y="724.00" width="9.30" height="9.73" fill="#020780"/>
<rect x="189.95" y="724.00" width="9.30" height="9.73" fill="#000042"/>
<rect x="199.55" y="724.00" width="9.30" height="9.73" fill="#020780"/>
<rect x="228.35" y="724.00" width="9.30" height="9.73" fill="#ff1c52"/>
<rect x="247.55" y="724.00" width="9.30" height="9.73" fill="#d00e1e"/>
<rect x="266.75" y="724.00" width="9.30" height="9.73" fill="#d00e1e"/>
<rect x="276.35" y="724.00" width="9.30" height="9.73" fill="#70030a"/>
<rect x="84.35" y="734.03" width="9.30" height="9.73" fill="#0c28ca"/>
<rect x="103.55" y="734.03" width="9.30" height="9.73" fill="#0c28ca"/>
<rect x="113.15" y="734.03" width="9.30" height="9.73" fill="#0c28ca"/>
<rect x="141.95" y="734.03" width="9.30" height="9.73" fill="#0c28ca"/>
<rect x="151.55" y="734.03" width="9.30" height="9.73" fill="#0c28ca"/>
<rect x="170.75" y="734.03" width="9.30" height="9.73" fill="#0616a5"/>
<rect x="189.95" y="734.03" width="9.30" height="9.73" fill="#0c28ca"/>
<rect x="199.55" y="734.03" width="9.30" height="9.73" fill="#020780"/>
<rect x="237.95" y="734.03" width="9.30" height="9.73" fill="#d00e1e"/>
<rect x="247.55" y="734.03" width="9.30" height="9.73" fill="#ff1c52"/>
<rect x="257.15" y="734.03" width="9.30" height="9.73" fill="#d00e1e"/>
<rect x="266.75" y="734.03" width="9.30" height="9.73" fill="#ff1c52"/>
<rect x="276.35" y="734.03" width="9.30" height="9.73" fill="#70030a"/>
<rect x="84.35" y="744.06" width="9.30" height="9.73" fill="#020780"/>
<rect x="93.95" y="744.06" width="9.30" height="9.73" fill="#020780"/>
<rect x="113.15" y="744.06" width="9.30" height="9.73" fill="#020780"/>
<rect x="122.75" y="744.06" width="9.30" height="9.73" fill="#020780"/>
<rect x="132.35" y="744.06" width="9.30" height="9.73" fill="#020780"/>
<rect x="151.55" y="744.06" width="9.30" height="9.73" fill="#0616a5"/>
<rect x="180.35" y="744.06" width="9.30" height="9.73" fill="#020780"/>
<rect x="189.95" y="744.06" width="9.30" height="9.73" fill="#020780"/>
<rect x="199.55" y="744.06" width="9.30" height="9.73" fill="#020780"/>
<rect x="209.15" y="744.06" width="9.30" height="9.73" fill="#a50812"/>
<rect x="237.95" y="744.06" width="9.30" height="9.73" fill="#d00e1e"/>
<rect x="257.15" y="744.06" width="9.30" height="9.73" fill="#ff1c52"/>
<rect x="266.75" y="744.06" width="9.30" height="9.73" fill="#ee1434"/>
<rect x="84.35" y="754.09" width="9.30" height="9.73" fill="#0c28ca"/>
<rect x="93.95" y="754.09" width="9.30" height="9.73" fill="#020780"/>
<rect x="122.75" y="754.09" width="9.30" height="9.73" fill="#020780"/>
<rect x="132.35" y="754.09" width="9.30" height="9.73" fill="#0c28ca"/>
<rect x="141.95" y="754.09" width="9.30" height="9.73" fill="#0c28ca"/>
<rect x="151.55" y="754.09" width="9.30" height="9.73" fill="#0c28ca"/>
<rect x="161.15" y="754.09" width="9.30" height="9.73" fill="#0c28ca"/>
<rect x="180.35" y="754.09" width="9.30" height="9.73" fill="#0616a5"/>
<rect x="189.95" y="754.09" width="9.30" height="9.73" fill="#020780"/>
<rect x="199.55" y="754.09" width="9.30" height="9.73" fill="#020780"/>
<rect x="209.15" y="754.09" width="9.30" height="9.73" fill="#d00e1e"/>
<rect x="228.35" y="754.09" width="9.30" height="9.73" fill="#a50812"/>
<rect x="247.55" y="754.09" width="9.30" height="9.73" fill="#d00e1e"/>
<rect x="257.15" y="754.09" width="9.30" height="9.73" fill="#a50812"/>
<rect x="276.35" y="754.09" width="9.30" height="9.73" fill="#ff1c52"/>
<rect x="84.35" y="764.12" width="9.30" height="9.73" fill="#0c28ca"/>
<rect x="103.55" y="764.12" width="9.30" height="9.73" fill="#020780"/>
<rect x="113.15" y="764.12" width="9.30" height="9.73" fill="#0616a5"/>
<rect x="122.75" y="764.12" width="9.30" height="9.73" fill="#020780"/>
<rect x="170.75" y="764.12" width="9.30" height="9.73" fill="#020780"/>
<rect x="180.35" y="764.12" width="9.30" height="9.73" fill="#0616a5"/>
<rect x="199.55" y="764.12" width="9.30" height="9.73" fill="#0c28ca"/>
<rect x="209.15" y="764.12" width="9.30" height="9.73" fill="#ee1434"/>
<rect x="218.75" y="764.12" width="9.30" height="9.73" fill="#a50812"/>
<rect x="237.95" y="764.12" width="9.30" height="9.73" fill="#ff1c52"/>
<rect x="247.55" y="764.12" width="9.30" height="9.73" fill="#020780"/>
<rect x="276.35" y="764.12" width="9.30" height="9.73" fill="#ff1c52"/>
<rect x="84.35" y="774.15" width="9.30" height="9.73" fill="#0c28ca"/>
<rect x="122.75" y="774.15" width="9.30" height="9.73" fill="#0c28ca"/>
<rect x="132.35" y="774.15" width="9.30" height="9.73" fill="#020780"/>
<rect x="141.95" y="774.15" width="9.30" height="9.73" fill="#0c28ca"/>
<rect x="151.55" y="774.15" width="9.30" height="9.73" fill="#0c28ca"/>
<rect x="170.75" y="774.15" width="9.30" height="9.73" fill="#020780"/>
<rect x="180.35" y="774.15" width="9.30" height="9.73" fill="#020780"/>
<rect x="189.95" y="774.15" width="9.30" height="9.73" fill="#020780"/>
<rect x="199.55" y="774.15" width="9.30" height="9.73" fill="#020780"/>
<rect x="209.15" y="774.15" width="9.30" height="9.73" fill="#d00e1e"/>
<rect x="218.75" y="774.15" width="9.30" height="9.73" fill="#d00e1e"/>
<rect x="228.35" y="774.15" width="9.30" height="9.73" fill="#a50812"/>
<rect x="247.55" y="774.15" width="9.30" height="9.73" fill="#d00e1e"/>
<rect x="257.15" y="774.15" width="9.30" height="9.73" fill="#ff1c52"/>
<rect x="266.75" y="774.15" width="9.30" height="9.73" fill="#000042"/>
<rect x="276.35" y="774.15" width="9.30" height="9.73" fill="#a50812"/>
<rect x="84.35" y="784.18" width="9.30" height="9.73" fill="#0c28ca"/>
<rect x="93.95" y="784.18" width="9.30" height="9.73" fill="#020780"/>
<rect x="122.75" y="784.18" width="9.30" height="9.73" fill="#0c28ca"/>
<rect x="132.35" y="784.18" width="9.30" height="9.73" fill="#020780"/>
<rect x="141.95" y="784.18" width="9.30" height="9.73" fill="#0c28ca"/>
<rect x="151.55" y="784.18" width="9.30" height="9.73" fill="#0c28ca"/>
<rect x="161.15" y="784.18" width="9.30" height="9.73" fill="#ff1c52"/>
<rect x="170.75" y="784.18" width="9.30" height="9.73" fill="#0616a5"/>
<rect x="180.35" y="784.18" width="9.30" height="9.73" fill="#0c28ca"/>
<rect x="189.95" y="784.18" width="9.30" height="9.73" fill="#0616a5"/>
<rect x="199.55" y="784.18" width="9.30" height="9.73" fill="#020780"/>
<rect x="209.15" y="784.18" width="9.30" height="9.73" fill="#ee1434"/>
<rect x="228.35" y="784.18" width="9.30" height="9.73" fill="#d00e1e"/>
<rect x="237.95" y="784.18" width="9.30" height="9.73" fill="#a50812"/>
<rect x="247.55" y="784.18" width="9.30" height="9.73" fill="#d00e1e"/>
<rect x="276.35" y="784.18" width="9.30" height="9.73" fill="#70030a"/>
<rect x="84.35" y="794.21" width="9.30" height="9.73" fill="#020780"/>
<rect x="103.55" y="794.21" width="9.30" height="9.73" fill="#0c28ca"/>
<rect x="113.15" y="794.21" width="9.30" height="9.73" fill="#0616a5"/>
<rect x="122.75" y="794.21" width="9.30" height="9.73" fill="#020780"/>
<rect x="132.35" y="794.21" width="9.30" height="9.73" fill="#ee1434"/>
<rect x="151.55" y="794.21" width="9.30" height="9.73" fill="#0616a5"/>
<rect x="170.75" y="794.21" width="9.30" height="9.73" fill="#0c28ca"/>
<rect x="180.35" y="794.21" width="9.30" height="9.73" fill="#000042"/>
<rect x="189.95" y="794.21" width="9.30" height="9.73" fill="#0c28ca"/>
<rect x="199.55" y="794.21" width="9.30" height="9.73" fill="#020780"/>
<rect x="228.35" y="794.21" width="9.30" height="9.73" fill="#ff1c52"/>
<rect x="237.95" y="794.21" width="9.30" height="9.73" fill="#ff1c52"/>
<rect x="257.15" y="794.21" width="9.30" height="9.73" fill="#70030a"/>
<rect x="84.35" y="804.24" width="9.30" height="9.73" fill="#0c28ca"/>
<rect x="93.95" y="804.24" width="9.30" height="9.73" fill="#0c28ca"/>
<rect x="132.35" y="804.24" width="9.30" height="9.73" fill="#0c28ca"/>
<rect x="141.95" y="804.24" width="9.30" height="9.73" fill="#0c28ca"/>
<rect x="151.55" y="804.24" width="9.30" height="9.73" fill="#0616a5"/>
<rect x="161.15" y="804.24" width="9.30" height="9.73" fill="#020780"/>
<rect x="180.35" y="804.24" width="9.30" height="9.73" fill="#0c28ca"/>
<rect x="218.75" y="804.24" width="9.30" height="9.73" fill="#a50812"/>
<rect x="228.35" y="804.24" width="9.30" height="9.73" fill="#d00e1e"/>
<rect x="237.95" y="804.24" width="9.30" height="9.73" fill="#70030a"/>
<rect x="266.75" y="804.24" width="9.30" height="9.73" fill="#ff1c52"/>
</g>
<text transform="translate(306.90 581.40) scale(0.92 1)" class="g2" text-anchor="middle">3.2</text>
<text transform="translate(330.30 581.40) scale(0.915 1)" class="g2" text-anchor="start">selectin P* (CD62) (SELP)</text>
<text transform="translate(306.90 591.38) scale(0.92 1)" class="g2" text-anchor="middle">3.0</text>
<text transform="translate(330.30 591.38) scale(0.915 1)" class="g2" text-anchor="start">cell adhesion molecule with homology to L1CAM (CHL1)</text>
<text transform="translate(306.90 601.37) scale(0.92 1)" class="g2" text-anchor="middle">3.3</text>
<text transform="translate(330.30 601.37) scale(0.915 1)" class="g2" text-anchor="start">reversion-inducing-cysteine-rich protein with Kazal motifs (RECK)</text>
<text transform="translate(306.90 611.36) scale(0.92 1)" class="g2" text-anchor="middle">4.0</text>
<text transform="translate(330.30 611.36) scale(0.915 1)" class="g2" text-anchor="start">minor histocompatibility antigen HB-1 (HB-1)</text>
<text transform="translate(306.90 621.34) scale(0.92 1)" class="g2" text-anchor="middle">3.8</text>
<text transform="translate(330.30 621.34) scale(0.915 1)" class="g2" text-anchor="start">adenosine deaminase, RNA-specific, B1 (ADARB1)</text>
<text transform="translate(306.90 631.32) scale(0.92 1)" class="g2" text-anchor="middle">7.1</text>
<text transform="translate(330.30 631.32) scale(0.915 1)" class="g2" text-anchor="start">signaling lymphocytic activation molecule (SLAM)</text>
<text transform="translate(306.90 641.31) scale(0.92 1)" class="g2" text-anchor="middle">3.8</text>
<text transform="translate(330.30 641.31) scale(0.915 1)" class="g2" text-anchor="start">lymfocyte-specific protein tyrosine kinase (LCK)</text>
<text transform="translate(306.90 651.29) scale(0.92 1)" class="g2" text-anchor="middle">3.3</text>
<text transform="translate(330.30 651.29) scale(0.915 1)" class="g2" text-anchor="start">lymphocyte-specific protein tyrosine kinase (LCK).</text>
<text transform="translate(306.90 661.28) scale(0.92 1)" class="g2" text-anchor="middle">5.9</text>
<text transform="translate(330.30 661.28) scale(0.915 1)" class="g2" text-anchor="start">cut-like 2 (Drosophila)*</text>
<text transform="translate(306.90 671.26) scale(0.92 1)" class="g2" text-anchor="middle">6.1</text>
<text transform="translate(330.30 671.26) scale(0.915 1)" class="g2" text-anchor="start">lactotransferrin* (LTF)</text>
<text transform="translate(306.90 681.25) scale(0.92 1)" class="g2" text-anchor="middle">5.6</text>
<text transform="translate(330.30 681.25) scale(0.915 1)" class="g2" text-anchor="start">granzyme M* (GZMM)</text>
<text transform="translate(306.90 691.24) scale(0.92 1)" class="g2" text-anchor="middle">5.3</text>
<text transform="translate(330.30 691.24) scale(0.915 1)" class="g2" text-anchor="start">KIAA1750 protein</text>
<text transform="translate(306.90 701.22) scale(0.92 1)" class="g2" text-anchor="middle">3.6</text>
<text transform="translate(330.30 701.22) scale(0.915 1)" class="g2" text-anchor="start">nebulette (NEBL)</text>
<text transform="translate(306.90 711.20) scale(0.92 1)" class="g2" text-anchor="middle">3.6</text>
<text transform="translate(330.30 711.20) scale(0.915 1)" class="g2" text-anchor="start">lipoprotein lipase (LPL)</text>
<text transform="translate(306.90 721.19) scale(0.92 1)" class="g2" text-anchor="middle">3.6</text>
<text transform="translate(330.30 721.19) scale(0.915 1)" class="g2" text-anchor="start">hypothetical protein PP1665</text>
<text transform="translate(306.90 731.17) scale(0.92 1)" class="g2" text-anchor="middle">3.5</text>
<text transform="translate(330.30 731.17) scale(0.915 1)" class="g2" text-anchor="start">KIAA0227 gene product</text>
<text transform="translate(306.90 741.16) scale(0.92 1)" class="g2" text-anchor="middle">3.3</text>
<text transform="translate(330.30 741.16) scale(0.915 1)" class="g2" text-anchor="start">proline arginine-rich end leucine-rich repeat protein* (PRELP)</text>
<text transform="translate(306.90 751.14) scale(0.92 1)" class="g2" text-anchor="middle">3.3</text>
<text transform="translate(330.30 751.14) scale(0.915 1)" class="g2" text-anchor="start">islet cell autoantigen 1* (ICA1)</text>
<text transform="translate(306.90 761.13) scale(0.92 1)" class="g2" text-anchor="middle">3.2</text>
<text transform="translate(330.30 761.13) scale(0.915 1)" class="g2" text-anchor="start">transmembrane 7 superfamily member 1 (TM7SF1)</text>
<text transform="translate(306.90 771.12) scale(0.92 1)" class="g2" text-anchor="middle">3.0</text>
<text transform="translate(330.30 771.12) scale(0.915 1)" class="g2" text-anchor="start">plastin 3 (PLS3)</text>
<text transform="translate(306.90 781.10) scale(0.92 1)" class="g2" text-anchor="middle">3.0</text>
<text transform="translate(330.30 781.10) scale(0.915 1)" class="g2" text-anchor="start">apolipoprotein C-I* (APOC1)</text>
<text transform="translate(306.90 791.09) scale(0.92 1)" class="g2" text-anchor="middle">3.0</text>
<text transform="translate(330.30 791.09) scale(0.915 1)" class="g2" text-anchor="start">DVS27-related protein* (DVS27)</text>
<text transform="translate(306.90 801.07) scale(0.92 1)" class="g2" text-anchor="middle">3.0</text>
<text transform="translate(330.30 801.07) scale(0.915 1)" class="g2" text-anchor="start">DNA segment on chromosome 6 (unique) 2654</text>
<text transform="translate(306.90 811.05) scale(0.92 1)" class="g2" text-anchor="middle">17.0</text>
<text transform="translate(330.30 811.05) scale(0.915 1)" class="g2" text-anchor="start">serine protease inhibitor, Kazal type 2 (SPINK2)</text>
<rect x="75.30" y="573.90" width="2.4" height="18.66" fill="#111"/>
<rect x="68.40" y="593.06" width="2.4" height="10.93" fill="#111"/>
<rect x="73.70" y="603.09" width="2.4" height="10.93" fill="#111"/>
<rect x="67.50" y="613.12" width="2.4" height="10.93" fill="#111"/>
<rect x="75.30" y="624.05" width="2.4" height="28.69" fill="#111"/>
<rect x="68.40" y="653.24" width="2.4" height="10.93" fill="#111"/>
<rect x="75.30" y="664.17" width="2.4" height="149.05" fill="#111"/>
<text x="58.00" y="585.40" class="l2" text-anchor="end">Adhesion</text>
<text x="58.00" y="600.40" class="l2" text-anchor="end">Cell cycle</text>
<text x="58.00" y="610.50" class="l2" text-anchor="end">HLA-antigens</text>
<text x="58.00" y="620.30" class="l2" text-anchor="end">RNA-processing</text>
<text x="58.00" y="642.30" class="l2" text-anchor="end">Signaling</text>
<text x="58.00" y="661.20" class="l2" text-anchor="end">Transcription</text>
<text x="58.00" y="736.30" class="l2" text-anchor="end">Miscellaneous</text>
<rect x="343.1" y="846.9" width="87.4" height="5.5" fill="url(#zg)" stroke="#111" stroke-width="0.9"/>
<text x="305.4" y="852.8" class="z">z-score</text>
<text x="349.20" y="861.90" class="zl" text-anchor="middle">2</text>
<text x="386.60" y="861.90" class="zl" text-anchor="middle">0</text>
<text x="429.20" y="861.90" class="zl" text-anchor="middle">-2</text>
</svg></body></html>
